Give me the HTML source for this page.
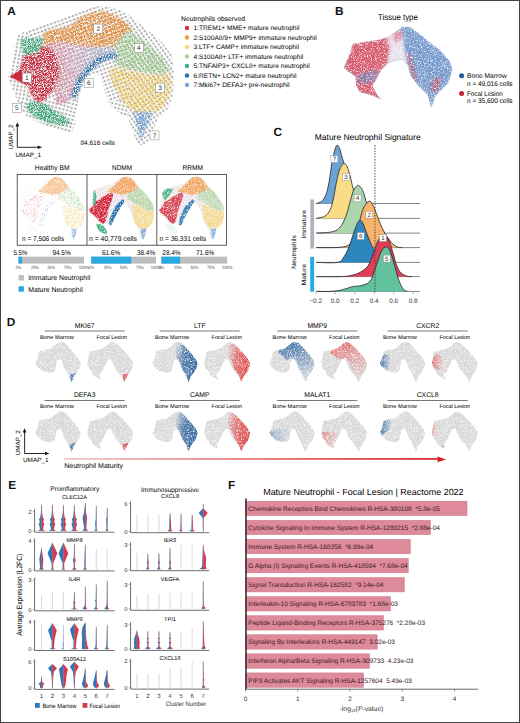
<!DOCTYPE html><html><head><meta charset="utf-8"><style>
html,body{margin:0;padding:0;background:#fff;}
svg{display:block;}
text{font-family:"Liberation Sans", sans-serif;text-rendering:geometricPrecision;}
</style></head><body>
<svg width="520" height="723" viewBox="0 0 520 723">
<defs>
<filter id="speck2" x="0" y="0" width="100%" height="100%" filterUnits="userSpaceOnUse">
<feTurbulence type="fractalNoise" baseFrequency="1.3" numOctaves="2" seed="11" result="n"/>
<feColorMatrix in="n" type="matrix" values="0 0 0 0 0  0 0 0 0 0  0 0 0 0 0  0 0 0 -3 2.45" result="m"/>
<feComposite in="SourceGraphic" in2="m" operator="in"/></filter>
<filter id="soft" x="-5%" y="-5%" width="110%" height="110%"><feGaussianBlur stdDeviation="0.35"/></filter>
</defs>
<rect x="0" y="0" width="520" height="723" fill="#fff"/>

<text x="7.2" y="15.4" font-size="11.8" font-weight="bold" fill="#111">A</text>
<defs>
<pattern id="arr" width="3.8" height="3.8" patternUnits="userSpaceOnUse" patternTransform="rotate(-20)">
<path d="M0.7,1.9 H2.7" stroke="#444" stroke-width="0.45" fill="none"/><path d="M2.4,1.3 L3.2,1.9 L2.4,2.5 Z" fill="#444"/>
</pattern>
<pattern id="arrU" width="3.8" height="3.8" patternUnits="userSpaceOnUse" patternTransform="rotate(-80)">
<path d="M0.7,1.9 H2.7" stroke="#444" stroke-width="0.45" fill="none"/><path d="M2.4,1.3 L3.2,1.9 L2.4,2.5 Z" fill="#444"/>
</pattern>
<pattern id="arrD" width="3.8" height="3.8" patternUnits="userSpaceOnUse" patternTransform="rotate(55)">
<path d="M0.7,1.9 H2.7" stroke="#444" stroke-width="0.45" fill="none"/><path d="M2.4,1.3 L3.2,1.9 L2.4,2.5 Z" fill="#444"/>
</pattern>
<pattern id="arrR" width="3.8" height="3.8" patternUnits="userSpaceOnUse" patternTransform="rotate(15)">
<path d="M0.7,1.9 H2.7" stroke="#444" stroke-width="0.45" fill="none"/><path d="M2.4,1.3 L3.2,1.9 L2.4,2.5 Z" fill="#444"/>
</pattern>
<clipPath id="haloclip"><polygon points="8,78 12,60 14,45 19,34 30,30 45,24 60,20 75,13 90,7 105,6 120,10 133,18 145,28 160,40 172,55 174,75 173,95 168,110 158,118 152,135 146,145 138,145 132,130 128,118 118,112 110,105 104,90 100,75 92,73 84,82 78,100 75,125 72,133 60,131 45,125 28,118 20,108 15,95"/></clipPath>
<linearGradient id="gmix" x1="0" y1="0" x2="1" y2="0"><stop offset="0" stop-color="#e58a98"/><stop offset="0.45" stop-color="#d9b8cf"/><stop offset="1" stop-color="#a9c6e4"/></linearGradient>
<filter id="amblur" x="0" y="0" width="180" height="150" filterUnits="userSpaceOnUse"><feGaussianBlur stdDeviation="0.9"/></filter>
<filter id="speck" x="0" y="0" width="100%" height="100%" filterUnits="userSpaceOnUse">
<feTurbulence type="fractalNoise" baseFrequency="1.1" numOctaves="2" seed="7" result="n"/>
<feColorMatrix in="n" type="matrix" values="0 0 0 0 0  0 0 0 0 0  0 0 0 0 0  0 0 0 -4.5 2.9" result="m"/>
<feComposite in="SourceGraphic" in2="m" operator="in"/>
</filter>
</defs>
<g opacity="0.85"><g clip-path="url(#haloclip)"><rect x="0" y="0" width="28" height="100" fill="url(#arrU)"/><rect x="28" y="0" width="100" height="100" fill="url(#arr)"/><rect x="128" y="0" width="50" height="150" fill="url(#arrD)"/><rect x="0" y="100" width="128" height="50" fill="url(#arrR)"/></g></g>
<g filter="url(#speck)"><g filter="url(#amblur)">
<polygon points="42.6,33 50,30 60,28 68.8,26.5 82.1,16.6 93.2,12.2 104.2,11 117.5,16.6 128.6,24.3 133,31 124.1,42 113.1,46.4 97.6,47.5 82.1,46.4 66.6,43.1 60,41 50,44 44,46" fill="#f09a48"/>
<polygon points="115.3,44.2 128.6,28.7 137.4,35.4 152.9,48.7 164,59.7 170.6,70.8 159.5,75.2 137.4,70.8 117.5,66.3 110.9,57.5" fill="#a9d29b"/>
<polygon points="110.9,66.3 137.4,73 159.5,75.2 170.6,73 170.6,92.9 164,106.1 152.9,112.8 135.2,112.8 124.1,103.9 115.3,88.5 108.7,75.2" fill="#f6d67c"/>
<polygon points="133,111.7 152.9,111.7 148.5,123.8 140.7,140.4 136.3,123.8" fill="#79a7d8"/>
<polygon points="44,46 60,41 82.1,46.4 97.6,47.5 113.1,46.4 117.5,57.5 110.9,55.3 99.8,59.7 88.7,68.6 79.9,79.6 73.3,97.3 66,104 56,104 54.2,89 60,73.5 58.1,58.1 50.3,54.2" fill="url(#gmix)"/>
<polygon points="70.5,96 77.2,78 86.5,66 98.2,57 110.5,52.3 117,54 117,60 111.3,58.3 101.4,62.4 90.9,71.2 82.6,81.2 76,98.6" fill="#2b73b0"/>
<polygon points="9.7,76.4 19.4,70.6 22.3,58.1 27,49 33,46 40,45.5 48,48 55,53 58.1,58.1 60,73.5 54.2,89 44.5,100.6 36.8,102.6 31,94.8 27.1,85.2 19.4,81.3" fill="#d42b40"/>
<polygon points="20.3,38.7 44.5,37.7 38.7,52.3 23.2,56.1" fill="#3fae80"/>
<polygon points="25.2,104.5 32.9,101.6 44.5,103.5 54.2,110.3 63.9,116.1 71.6,123.9 63.9,125.8 50.3,123.9 36.8,118 29,112.3" fill="#3fae80"/>
</g></g>
<polygon points="9.7,76.4 21.3,69.7 27.1,85.2" fill="#d42b40"/>
<g opacity="0.6"><g clip-path="url(#haloclip)"><rect x="0" y="0" width="28" height="100" fill="url(#arrU)"/><rect x="28" y="0" width="100" height="100" fill="url(#arr)"/><rect x="128" y="0" width="50" height="150" fill="url(#arrD)"/><rect x="0" y="100" width="128" height="50" fill="url(#arrR)"/></g></g>
<rect x="22.3" y="73.1" width="9" height="9" fill="#fff" stroke="#888" stroke-width="0.5"/>
<text x="26.8" y="79.94" font-size="6.5" text-anchor="middle" fill="#333">1</text>
<rect x="93.7" y="24.1" width="9" height="9" fill="#fff" stroke="#888" stroke-width="0.5"/>
<text x="98.2" y="30.94" font-size="6.5" text-anchor="middle" fill="#333">2</text>
<rect x="155.5" y="83.2" width="9" height="9" fill="#fff" stroke="#888" stroke-width="0.5"/>
<text x="160" y="90.04" font-size="6.5" text-anchor="middle" fill="#333">3</text>
<rect x="134.4" y="43.5" width="9" height="9" fill="#fff" stroke="#888" stroke-width="0.5"/>
<text x="138.9" y="50.34" font-size="6.5" text-anchor="middle" fill="#333">4</text>
<rect x="12.3" y="103.3" width="9" height="9" fill="#fff" stroke="#888" stroke-width="0.5"/>
<text x="16.8" y="110.14" font-size="6.5" text-anchor="middle" fill="#333">5</text>
<rect x="84.2" y="78.3" width="9" height="9" fill="#fff" stroke="#888" stroke-width="0.5"/>
<text x="88.7" y="85.14" font-size="6.5" text-anchor="middle" fill="#333">6</text>
<rect x="150.0" y="130.9" width="9" height="9" fill="#fff" stroke="#888" stroke-width="0.5"/>
<text x="154.5" y="137.74" font-size="6.5" text-anchor="middle" fill="#333">7</text>
<text x="181" y="20.5" font-size="6.8" textLength="64" lengthAdjust="spacingAndGlyphs">Neutrophils observed</text>
<circle cx="187" cy="28.0" r="2.2" fill="#d42b40"/>
<text x="193.5" y="30.4" font-size="6.6">1:TREM1+ MME+ mature neutrophil</text>
<circle cx="187" cy="37.5" r="2.2" fill="#f09a48"/>
<text x="193.5" y="39.9" font-size="6.6">2:S100A8/9+ MMP9+ immature neutrophil</text>
<circle cx="187" cy="47.0" r="2.2" fill="#f6d67c"/>
<text x="193.5" y="49.4" font-size="6.6">3:LTF+ CAMP+ immature neutrophil</text>
<circle cx="187" cy="56.5" r="2.2" fill="#a9d29b"/>
<text x="193.5" y="58.9" font-size="6.6">4:S100A8+ LTF+ immature neutrophil</text>
<circle cx="187" cy="66.0" r="2.2" fill="#3fae80"/>
<text x="193.5" y="68.4" font-size="6.6">5:TNFAIP3+ CXCL8+ mature neutrophil</text>
<circle cx="187" cy="75.5" r="2.2" fill="#2b73b0"/>
<text x="193.5" y="77.9" font-size="6.6">6:RETN+ LCN2+ mature neutrophil</text>
<circle cx="187" cy="85.0" r="2.2" fill="#79a7d8"/>
<text x="193.5" y="87.4" font-size="6.6">7:Mki67+ DEFA3+ pre-neutrophil</text>
<text x="80.5" y="144.5" font-size="6.5" textLength="34.5" lengthAdjust="spacingAndGlyphs">84,616 cells</text>
<path d="M17.3,147.3 V125 M17.3,147.3 H39" stroke="#111" stroke-width="0.9" fill="none"/>
<path d="M15.5,126.6 L17.3,122.2 L19.1,126.6 Z M37.7,145.5 L42,147.3 L37.7,149.1 Z" fill="#111"/>
<text x="12.6" y="149.2" font-size="6.3" textLength="24.5" lengthAdjust="spacingAndGlyphs" transform="rotate(-90 12.6 149.2)">UMAP_2</text>
<text x="15.5" y="157" font-size="6.3" textLength="25.5" lengthAdjust="spacingAndGlyphs">UMAP_1</text>
<text x="52.15" y="170.1" font-size="7.0" text-anchor="middle" textLength="34.7" lengthAdjust="spacingAndGlyphs">Healthy BM</text>
<text x="122" y="170.1" font-size="7.0" text-anchor="middle" textLength="20" lengthAdjust="spacingAndGlyphs">NDMM</text>
<text x="192.75" y="170.1" font-size="7.0" text-anchor="middle" textLength="20.5" lengthAdjust="spacingAndGlyphs">RRMM</text>
<text x="22" y="241.2" font-size="7.0" textLength="42" lengthAdjust="spacingAndGlyphs">n = 7,506 cells</text>
<text x="89" y="241.2" font-size="7.0" textLength="48" lengthAdjust="spacingAndGlyphs">n = 40,779 cells</text>
<text x="159.4" y="241.2" font-size="7.0" textLength="46.6" lengthAdjust="spacingAndGlyphs">n = 36,331 cells</text>
<rect x="17.2" y="174.4" width="209.3" height="70.8" fill="none" stroke="#333" stroke-width="0.8"/>
<path d="M87,174.4 V245.2 M156.8,174.4 V245.2" stroke="#333" stroke-width="0.8"/>
<defs><filter id="speck3" x="0" y="0" width="100%" height="100%" filterUnits="userSpaceOnUse">
<feTurbulence type="fractalNoise" baseFrequency="1.3" numOctaves="2" seed="5" result="n"/>
<feColorMatrix in="n" type="matrix" values="0 0 0 0 0  0 0 0 0 0  0 0 0 0 0  0 0 0 -5 2.5" result="m"/>
<feComposite in="SourceGraphic" in2="m" operator="in"/></filter>
<filter id="smblur"><feGaussianBlur stdDeviation="1.1"/></filter></defs>
<g filter="url(#speck3)"><g transform="translate(19.5,176.7) scale(0.6530,0.6330)"><g filter="url(#smblur)">
<polygon points="0,52 4,36 7,20 22,15 37,11 50,0 64,3 84,25 97,44 100,55 95,72 88,81 79,100 76,83 68,70 62,50 55,40 46,42 40,52 34,64 29,74 25,72 15,72 8,64 2,58" fill="#efe6e6" opacity="0.35"/>
<polygon points="75.3,16.4 83.5,22.8 91.7,33.5 97.9,44.1 100,52.6 93.8,54.7 85.6,50.5 77.3,46.2 67,39.8 58.8,35.6 58.8,27.1 69.1,22.8" fill="#a9d29b" opacity="0.75"/>
<polygon points="67,44 77.3,46.2 87.6,52.6 97.9,54.7 100,61.1 97.9,71.7 93.8,78.1 87.6,82.4 79.4,82.4 73.2,78.1 69.1,67.5 67,56.9" fill="#f6d67c" opacity="0.7"/>
<polygon points="79.4,82.4 87.6,82.4 86,92 82.5,100 80,92" fill="#79a7d8" opacity="1"/>
<polygon points="35.1,25 50.5,29.2 58.8,27.1 58.8,35.6 51.6,35.6 46.4,39.8 42.3,44.1 38.2,50.5 34,61.1 29.9,50.5 34,39.8 37.1,29.2" fill="#ebe4ef" opacity="0.3"/>
<polygon points="46.4,39.8 51.6,35.6 54.7,38.8 48.5,48.3 42.3,59 37.1,69.6 34,77 29.9,76 32,65.4 38.2,50.5 42.3,44.1" fill="#2b73b0" opacity="0.3"/>
<polygon points="0,52.6 5.2,47.3 8.3,39.8 15.5,36.6 21.7,31.3 29.9,27.1 35.1,25 37.1,29.2 34,39.8 29.9,50.5 27.9,61.1 24.8,71.7 21.7,74.9 16.5,71.7 12.4,65.4 5.2,59 1.1,55.8" fill="#d42b40" opacity="0.25"/>
<polygon points="6.2,23.9 9.3,21.8 11.4,31.3 9.3,46.2 6.2,44.1" fill="#3fae80" opacity="0.15"/>
<polygon points="11.4,74.4 21.7,76.5 28,87.2 25.8,91.4 17.5,87.2 12.4,80.8" fill="#3fae80" opacity="0.1"/>
</g></g></g>
<g filter="url(#speck2)"><g transform="translate(19.5,176.7) scale(0.6530,0.6330)"><g filter="url(#smblur)">
<polygon points="27.9,22.8 38.2,14.3 46.4,5.8 52.6,0.5 58.8,0 64.9,2.6 71.1,10.1 75.3,16.4 69.1,22.8 58.8,27.1 50.5,29.2 42.3,27.1 35.1,25" fill="#f09a48" opacity="0.55"/>
<polygon points="75.3,16.4 83.5,22.8 91.7,33.5 97.9,44.1 100,52.6 93.8,54.7 85.6,50.5 77.3,46.2 67,39.8 58.8,35.6 58.8,27.1 69.1,22.8" fill="#a9d29b" opacity="0.15"/>
<polygon points="67,44 77.3,46.2 87.6,52.6 97.9,54.7 100,61.1 97.9,71.7 93.8,78.1 87.6,82.4 79.4,82.4 73.2,78.1 69.1,67.5 67,56.9" fill="#f6d67c" opacity="0.15"/>
<polygon points="79.4,82.4 87.6,82.4 86,92 82.5,100 80,92" fill="#79a7d8" opacity="0.5"/>
</g></g></g>
<g filter="url(#speck2)"><g transform="translate(89,176.7) scale(0.6530,0.6330)"><g filter="url(#smblur)">
<polygon points="0,52 4,36 7,20 22,15 37,11 50,0 64,3 84,25 97,44 100,55 95,72 88,81 79,100 76,83 68,70 62,50 55,40 46,42 40,52 34,64 29,74 25,72 15,72 8,64 2,58" fill="#efe6e6" opacity="1"/>
<polygon points="27.9,22.8 38.2,14.3 46.4,5.8 52.6,0.5 58.8,0 64.9,2.6 71.1,10.1 75.3,16.4 69.1,22.8 58.8,27.1 50.5,29.2 42.3,27.1 35.1,25" fill="#f09a48" opacity="0.8"/>
<polygon points="75.3,16.4 83.5,22.8 91.7,33.5 97.9,44.1 100,52.6 93.8,54.7 85.6,50.5 77.3,46.2 67,39.8 58.8,35.6 58.8,27.1 69.1,22.8" fill="#a9d29b" opacity="0.75"/>
<polygon points="67,44 77.3,46.2 87.6,52.6 97.9,54.7 100,61.1 97.9,71.7 93.8,78.1 87.6,82.4 79.4,82.4 73.2,78.1 69.1,67.5 67,56.9" fill="#f6d67c" opacity="0.75"/>
<polygon points="79.4,82.4 87.6,82.4 86,92 82.5,100 80,92" fill="#79a7d8" opacity="0.9"/>
<polygon points="35.1,25 50.5,29.2 58.8,27.1 58.8,35.6 51.6,35.6 46.4,39.8 42.3,44.1 38.2,50.5 34,61.1 29.9,50.5 34,39.8 37.1,29.2" fill="#ebe4ef" opacity="0.8"/>
<polygon points="46.4,39.8 51.6,35.6 54.7,38.8 48.5,48.3 42.3,59 37.1,69.6 34,77 29.9,76 32,65.4 38.2,50.5 42.3,44.1" fill="#2b73b0" opacity="1"/>
<polygon points="0,52.6 5.2,47.3 8.3,39.8 15.5,36.6 21.7,31.3 29.9,27.1 35.1,25 37.1,29.2 34,39.8 29.9,50.5 27.9,61.1 24.8,71.7 21.7,74.9 16.5,71.7 12.4,65.4 5.2,59 1.1,55.8" fill="#d42b40" opacity="1"/>
<polygon points="6.2,23.9 9.3,21.8 11.4,31.3 9.3,46.2 6.2,44.1" fill="#3fae80" opacity="1"/>
<polygon points="11.4,74.4 21.7,76.5 28,87.2 25.8,91.4 17.5,87.2 12.4,80.8" fill="#3fae80" opacity="1"/>
</g></g></g>
<g filter="url(#speck2)"><g transform="translate(159,176.7) scale(0.6530,0.6330)"><g filter="url(#smblur)">
<polygon points="0,52 4,36 7,20 22,15 37,11 50,0 64,3 84,25 97,44 100,55 95,72 88,81 79,100 76,83 68,70 62,50 55,40 46,42 40,52 34,64 29,74 25,72 15,72 8,64 2,58" fill="#efe6e6" opacity="1"/>
<polygon points="27.9,22.8 38.2,14.3 46.4,5.8 52.6,0.5 58.8,0 64.9,2.6 71.1,10.1 75.3,16.4 69.1,22.8 58.8,27.1 50.5,29.2 42.3,27.1 35.1,25" fill="#f09a48" opacity="0.8"/>
<polygon points="75.3,16.4 83.5,22.8 91.7,33.5 97.9,44.1 100,52.6 93.8,54.7 85.6,50.5 77.3,46.2 67,39.8 58.8,35.6 58.8,27.1 69.1,22.8" fill="#a9d29b" opacity="0.7"/>
<polygon points="67,44 77.3,46.2 87.6,52.6 97.9,54.7 100,61.1 97.9,71.7 93.8,78.1 87.6,82.4 79.4,82.4 73.2,78.1 69.1,67.5 67,56.9" fill="#f6d67c" opacity="0.75"/>
<polygon points="79.4,82.4 87.6,82.4 86,92 82.5,100 80,92" fill="#79a7d8" opacity="0.9"/>
<polygon points="35.1,25 50.5,29.2 58.8,27.1 58.8,35.6 51.6,35.6 46.4,39.8 42.3,44.1 38.2,50.5 34,61.1 29.9,50.5 34,39.8 37.1,29.2" fill="#ebe4ef" opacity="0.8"/>
<polygon points="46.4,39.8 51.6,35.6 54.7,38.8 48.5,48.3 42.3,59 37.1,69.6 34,77 29.9,76 32,65.4 38.2,50.5 42.3,44.1" fill="#2b73b0" opacity="0.9"/>
<polygon points="0,52.6 5.2,47.3 8.3,39.8 15.5,36.6 21.7,31.3 29.9,27.1 35.1,25 37.1,29.2 34,39.8 29.9,50.5 27.9,61.1 24.8,71.7 21.7,74.9 16.5,71.7 12.4,65.4 5.2,59 1.1,55.8" fill="#d42b40" opacity="0.85"/>
<polygon points="4,26 12,19 22,19 18,27 9,38" fill="#3fae80" opacity="0.9"/>
<polygon points="11.4,74.4 21.7,76.5 28,87.2 25.8,91.4 17.5,87.2 12.4,80.8" fill="#3fae80" opacity="0.12"/>
</g></g></g>
<rect x="18.5" y="256.7" width="65.5" height="6.9" fill="#bcbec0"/>
<rect x="18.5" y="256.7" width="3.60" height="6.9" fill="#27a9e1"/>
<text x="13.5" y="254.6" font-size="7.0" textLength="13.8" lengthAdjust="spacingAndGlyphs">5.5%</text>
<text x="52.4" y="254.6" font-size="7.0" textLength="18.3" lengthAdjust="spacingAndGlyphs">94.5%</text>
<text x="18.5" y="268.8" font-size="4.6" text-anchor="middle" fill="#555" textLength="5.5" lengthAdjust="spacingAndGlyphs">0%</text>
<text x="34.875" y="268.8" font-size="4.6" text-anchor="middle" fill="#555" textLength="7.6" lengthAdjust="spacingAndGlyphs">25%</text>
<text x="51.25" y="268.8" font-size="4.6" text-anchor="middle" fill="#555" textLength="7.6" lengthAdjust="spacingAndGlyphs">50%</text>
<text x="67.625" y="268.8" font-size="4.6" text-anchor="middle" fill="#555" textLength="7.6" lengthAdjust="spacingAndGlyphs">75%</text>
<text x="84.0" y="268.8" font-size="4.6" text-anchor="middle" fill="#555" textLength="10.5" lengthAdjust="spacingAndGlyphs">100%</text>
<rect x="91.3" y="256.7" width="64.7" height="6.9" fill="#bcbec0"/>
<rect x="91.3" y="256.7" width="39.86" height="6.9" fill="#27a9e1"/>
<text x="101.9" y="254.6" font-size="7.0" textLength="18.3" lengthAdjust="spacingAndGlyphs">61.6%</text>
<text x="136.9" y="254.6" font-size="7.0" textLength="18.3" lengthAdjust="spacingAndGlyphs">38.4%</text>
<text x="91.3" y="268.8" font-size="4.6" text-anchor="middle" fill="#555" textLength="5.5" lengthAdjust="spacingAndGlyphs">0%</text>
<text x="107.475" y="268.8" font-size="4.6" text-anchor="middle" fill="#555" textLength="7.6" lengthAdjust="spacingAndGlyphs">25%</text>
<text x="123.65" y="268.8" font-size="4.6" text-anchor="middle" fill="#555" textLength="7.6" lengthAdjust="spacingAndGlyphs">50%</text>
<text x="139.825" y="268.8" font-size="4.6" text-anchor="middle" fill="#555" textLength="7.6" lengthAdjust="spacingAndGlyphs">75%</text>
<text x="156.0" y="268.8" font-size="4.6" text-anchor="middle" fill="#555" textLength="10.5" lengthAdjust="spacingAndGlyphs">100%</text>
<rect x="161.4" y="256.7" width="65.79999999999998" height="6.9" fill="#bcbec0"/>
<rect x="161.4" y="256.7" width="18.69" height="6.9" fill="#27a9e1"/>
<text x="162.3" y="254.6" font-size="7.0" textLength="18.3" lengthAdjust="spacingAndGlyphs">28.4%</text>
<text x="196" y="254.6" font-size="7.0" textLength="18.3" lengthAdjust="spacingAndGlyphs">71.6%</text>
<text x="161.4" y="268.8" font-size="4.6" text-anchor="middle" fill="#555" textLength="5.5" lengthAdjust="spacingAndGlyphs">0%</text>
<text x="177.85" y="268.8" font-size="4.6" text-anchor="middle" fill="#555" textLength="7.6" lengthAdjust="spacingAndGlyphs">25%</text>
<text x="194.3" y="268.8" font-size="4.6" text-anchor="middle" fill="#555" textLength="7.6" lengthAdjust="spacingAndGlyphs">50%</text>
<text x="210.75" y="268.8" font-size="4.6" text-anchor="middle" fill="#555" textLength="7.6" lengthAdjust="spacingAndGlyphs">75%</text>
<text x="227.2" y="268.8" font-size="4.6" text-anchor="middle" fill="#555" textLength="10.5" lengthAdjust="spacingAndGlyphs">100%</text>
<rect x="18.6" y="275" width="5.3" height="5.5" fill="#bcbec0"/>
<text x="28.2" y="280.4" font-size="6.9" textLength="62" lengthAdjust="spacingAndGlyphs">Immature Neutrophil</text>
<rect x="18.6" y="286.2" width="5.3" height="5.5" fill="#27a9e1"/>
<text x="28.2" y="291.6" font-size="6.9" textLength="54.5" lengthAdjust="spacingAndGlyphs">Mature Neutrophil</text>
<text x="334.9" y="15.4" font-size="11.8" font-weight="bold" fill="#111">B</text>
<text x="377.9" y="19.9" font-size="8.5" textLength="40" lengthAdjust="spacingAndGlyphs">Tissue type</text>
<defs><clipPath id="bclip"><polygon points="343.75,67.5 350,52.5 352.5,43.75 360,42.5 367.5,41.25 377.5,40 387,37 395,32.3 402,26.5 410,27 418,32.3 427.5,40.5 440,50 450,61.25 452.5,70 448.75,82.5 440,91.25 435,97.5 431.25,108.75 427.5,95 417.5,85 410,75 407.5,65 402.5,60 395,61.25 387.5,63.75 381.25,70 376.25,80 372.5,85.5 377.5,95 382.5,100 370,95 360,92.5 356.25,86.25 355,76.25 347.5,71.25"/></clipPath><filter id="bblur" x="330" y="15" width="140" height="105" filterUnits="userSpaceOnUse"><feGaussianBlur stdDeviation="1.6"/></filter></defs>
<g filter="url(#speck2)"><g clip-path="url(#bclip)">
<polygon points="343.75,67.5 350,52.5 352.5,43.75 360,42.5 367.5,41.25 377.5,40 387,37 395,32.3 402,26.5 410,27 418,32.3 427.5,40.5 440,50 450,61.25 452.5,70 448.75,82.5 440,91.25 435,97.5 431.25,108.75 427.5,95 417.5,85 410,75 407.5,65 402.5,60 395,61.25 387.5,63.75 381.25,70 376.25,80 372.5,85.5 377.5,95 382.5,100 370,95 360,92.5 356.25,86.25 355,76.25 347.5,71.25" fill="#b4c3e2"/>
<g filter="url(#bblur)">
<polygon points="343.75,67.5 350,52.5 352.5,43.75 360,42.5 367.5,41.25 377.5,40 387,37 392,40 390,50 387.5,63.75 381.25,70 376.25,80 372.5,85.5 377.5,95 382.5,100 370,95 360,92.5 356.25,86.25 355,76.25 347.5,71.25" fill="#dc4a5a" opacity="0.85"/>
<polygon points="358,74 368,72 378,70 375,80 366,84 358,82" fill="#6f8fc4" opacity="0.7"/>
<polygon points="398,29 402,26.5 410,27 418,32.3 427.5,40.5 440,50 450,61.25 452.5,70 448.75,82.5 440,91.25 435,97.5 431.25,108.75 427.5,95 417.5,85 410,75 407.5,65 404,55 402,42" fill="#6c93c9" opacity="0.85"/>
<polygon points="387,37 395,32.3 402,30 404,45 407.5,65 402.5,60 395,61.25 387.5,63.75 390,50" fill="#f1eaf0" opacity="0.8"/>
<polygon points="406,52 411,55 414,68 418,82 413,80 409,68" fill="#dc4656" opacity="0.5"/>
<polygon points="432,80 442,76 438,90 431,93" fill="#dc4656" opacity="0.55"/>
<polygon points="392,35 398,30 403,31 401,40 395,44" fill="#dc4656" opacity="0.5"/>
</g>
</g></g>
<circle cx="461.6" cy="75.8" r="2.5" fill="#1f5d9c"/>
<text x="467" y="77.8" font-size="6.8" textLength="39.8" lengthAdjust="spacingAndGlyphs">Bone Marrow</text>
<text x="467" y="85.8" font-size="6.8" textLength="45.6" lengthAdjust="spacingAndGlyphs">n = 49,016 cells</text>
<circle cx="461.6" cy="93.6" r="2.5" fill="#c8202e"/>
<text x="467" y="95.7" font-size="6.8" textLength="35.8" lengthAdjust="spacingAndGlyphs">Focal Lesion</text>
<text x="467" y="103.3" font-size="6.8" textLength="45.6" lengthAdjust="spacingAndGlyphs">n = 35,600 cells</text>
<text x="273.6" y="135.7" font-size="11.8" font-weight="bold" fill="#111">C</text>
<text x="314.8" y="139.5" font-size="8.4" textLength="105.8" lengthAdjust="spacingAndGlyphs">Mature Neutrophil Signature</text>
<line x1="316.3" y1="203.5" x2="420" y2="203.5" stroke="#58595b" stroke-width="0.75"/>
<path d="M316.30,203.50 C317.18,203.13 320.00,202.72 321.60,201.30 C323.20,199.88 324.67,198.17 325.90,195.00 C327.13,191.83 327.95,187.93 329.00,182.30 C330.05,176.67 331.20,166.67 332.20,161.20 C333.20,155.73 334.18,152.15 335.00,149.50 C335.82,146.85 336.33,145.47 337.10,145.30 C337.87,145.13 338.83,146.73 339.60,148.50 C340.37,150.27 341.07,153.78 341.70,155.90 C342.33,158.02 342.68,158.52 343.40,161.20 C344.12,163.88 345.07,168.03 346.00,172.00 C346.93,175.97 348.00,181.17 349.00,185.00 C350.00,188.83 350.83,192.33 352.00,195.00 C353.17,197.67 354.33,199.63 356.00,201.00 C357.67,202.37 359.67,202.78 362.00,203.20 C364.33,203.62 368.67,203.45 370.00,203.50 L370,203.5 L316.3,203.5 Z" fill="#6aa3d6"/>
<path d="M316.30,203.50 C317.18,203.13 320.00,202.72 321.60,201.30 C323.20,199.88 324.67,198.17 325.90,195.00 C327.13,191.83 327.95,187.93 329.00,182.30 C330.05,176.67 331.20,166.67 332.20,161.20 C333.20,155.73 334.18,152.15 335.00,149.50 C335.82,146.85 336.33,145.47 337.10,145.30 C337.87,145.13 338.83,146.73 339.60,148.50 C340.37,150.27 341.07,153.78 341.70,155.90 C342.33,158.02 342.68,158.52 343.40,161.20 C344.12,163.88 345.07,168.03 346.00,172.00 C346.93,175.97 348.00,181.17 349.00,185.00 C350.00,188.83 350.83,192.33 352.00,195.00 C353.17,197.67 354.33,199.63 356.00,201.00 C357.67,202.37 359.67,202.78 362.00,203.20 C364.33,203.62 368.67,203.45 370.00,203.50" fill="none" stroke="#2d2d2d" stroke-width="0.85"/>
<line x1="316.3" y1="218.4" x2="420" y2="218.4" stroke="#58595b" stroke-width="0.75"/>
<path d="M316.30,218.40 C317.72,218.03 322.50,217.63 324.80,216.20 C327.10,214.77 328.68,212.63 330.10,209.80 C331.52,206.97 332.25,203.78 333.30,199.20 C334.35,194.62 335.35,187.23 336.40,182.30 C337.45,177.37 338.53,172.60 339.60,169.60 C340.67,166.60 342.02,165.35 342.80,164.30 C343.58,163.25 343.60,162.95 344.30,163.30 C345.00,163.65 346.02,164.28 347.00,166.40 C347.98,168.52 349.32,172.82 350.20,176.00 C351.08,179.18 351.50,182.17 352.30,185.50 C353.10,188.83 354.05,192.58 355.00,196.00 C355.95,199.42 356.83,203.00 358.00,206.00 C359.17,209.00 360.33,212.03 362.00,214.00 C363.67,215.97 365.67,217.07 368.00,217.80 C370.33,218.53 374.67,218.30 376.00,218.40 L376,218.4 L316.3,218.4 Z" fill="#fbdc86"/>
<path d="M316.30,218.40 C317.72,218.03 322.50,217.63 324.80,216.20 C327.10,214.77 328.68,212.63 330.10,209.80 C331.52,206.97 332.25,203.78 333.30,199.20 C334.35,194.62 335.35,187.23 336.40,182.30 C337.45,177.37 338.53,172.60 339.60,169.60 C340.67,166.60 342.02,165.35 342.80,164.30 C343.58,163.25 343.60,162.95 344.30,163.30 C345.00,163.65 346.02,164.28 347.00,166.40 C347.98,168.52 349.32,172.82 350.20,176.00 C351.08,179.18 351.50,182.17 352.30,185.50 C353.10,188.83 354.05,192.58 355.00,196.00 C355.95,199.42 356.83,203.00 358.00,206.00 C359.17,209.00 360.33,212.03 362.00,214.00 C363.67,215.97 365.67,217.07 368.00,217.80 C370.33,218.53 374.67,218.30 376.00,218.40" fill="none" stroke="#2d2d2d" stroke-width="0.85"/>
<line x1="316.3" y1="233.1" x2="420" y2="233.1" stroke="#58595b" stroke-width="0.75"/>
<path d="M316.30,233.10 C318.78,232.92 327.32,232.88 331.20,232.00 C335.08,231.12 337.13,230.43 339.60,227.80 C342.07,225.17 344.23,220.62 346.00,216.20 C347.77,211.78 348.97,205.53 350.20,201.30 C351.43,197.07 352.35,193.33 353.40,190.80 C354.45,188.27 355.70,186.98 356.50,186.10 C357.30,185.22 357.32,185.07 358.20,185.50 C359.08,185.93 360.73,186.95 361.80,188.70 C362.87,190.45 363.78,193.53 364.60,196.00 C365.42,198.47 365.97,201.00 366.70,203.50 C367.43,206.00 368.12,208.25 369.00,211.00 C369.88,213.75 370.92,217.17 372.00,220.00 C373.08,222.83 374.42,225.93 375.50,228.00 C376.58,230.07 377.58,231.55 378.50,232.40 C379.42,233.25 380.58,232.98 381.00,233.10 L381,233.1 L316.3,233.1 Z" fill="#abd6ad"/>
<path d="M316.30,233.10 C318.78,232.92 327.32,232.88 331.20,232.00 C335.08,231.12 337.13,230.43 339.60,227.80 C342.07,225.17 344.23,220.62 346.00,216.20 C347.77,211.78 348.97,205.53 350.20,201.30 C351.43,197.07 352.35,193.33 353.40,190.80 C354.45,188.27 355.70,186.98 356.50,186.10 C357.30,185.22 357.32,185.07 358.20,185.50 C359.08,185.93 360.73,186.95 361.80,188.70 C362.87,190.45 363.78,193.53 364.60,196.00 C365.42,198.47 365.97,201.00 366.70,203.50 C367.43,206.00 368.12,208.25 369.00,211.00 C369.88,213.75 370.92,217.17 372.00,220.00 C373.08,222.83 374.42,225.93 375.50,228.00 C376.58,230.07 377.58,231.55 378.50,232.40 C379.42,233.25 380.58,232.98 381.00,233.10" fill="none" stroke="#2d2d2d" stroke-width="0.85"/>
<line x1="316.3" y1="247.6" x2="420" y2="247.6" stroke="#58595b" stroke-width="0.75"/>
<path d="M316.30,247.60 C320.25,247.55 334.38,247.90 340.00,247.30 C345.62,246.70 347.33,246.22 350.00,244.00 C352.67,241.78 354.42,237.67 356.00,234.00 C357.58,230.33 358.53,225.55 359.50,222.00 C360.47,218.45 360.88,215.48 361.80,212.70 C362.72,209.92 363.68,207.23 365.00,205.30 C366.32,203.37 368.28,200.93 369.70,201.10 C371.12,201.27 372.23,203.82 373.50,206.30 C374.77,208.78 376.08,212.88 377.30,216.00 C378.52,219.12 379.65,222.35 380.80,225.00 C381.95,227.65 383.05,229.78 384.20,231.90 C385.35,234.02 386.35,235.77 387.70,237.70 C389.05,239.63 390.95,242.07 392.30,243.50 C393.65,244.93 394.65,245.63 395.80,246.30 C396.95,246.97 398.17,247.28 399.20,247.50 C400.23,247.72 401.53,247.58 402.00,247.60 L402,247.6 L316.3,247.6 Z" fill="#f8b46a"/>
<path d="M316.30,247.60 C320.25,247.55 334.38,247.90 340.00,247.30 C345.62,246.70 347.33,246.22 350.00,244.00 C352.67,241.78 354.42,237.67 356.00,234.00 C357.58,230.33 358.53,225.55 359.50,222.00 C360.47,218.45 360.88,215.48 361.80,212.70 C362.72,209.92 363.68,207.23 365.00,205.30 C366.32,203.37 368.28,200.93 369.70,201.10 C371.12,201.27 372.23,203.82 373.50,206.30 C374.77,208.78 376.08,212.88 377.30,216.00 C378.52,219.12 379.65,222.35 380.80,225.00 C381.95,227.65 383.05,229.78 384.20,231.90 C385.35,234.02 386.35,235.77 387.70,237.70 C389.05,239.63 390.95,242.07 392.30,243.50 C393.65,244.93 394.65,245.63 395.80,246.30 C396.95,246.97 398.17,247.28 399.20,247.50 C400.23,247.72 401.53,247.58 402.00,247.60" fill="none" stroke="#2d2d2d" stroke-width="0.85"/>
<line x1="316.3" y1="262.4" x2="420" y2="262.4" stroke="#58595b" stroke-width="0.75"/>
<path d="M316.30,262.40 C319.83,262.40 332.92,263.28 337.50,262.40 C342.08,261.52 341.87,259.75 343.80,257.10 C345.73,254.45 347.50,250.38 349.10,246.50 C350.70,242.62 352.17,237.32 353.40,233.80 C354.63,230.28 355.45,227.68 356.50,225.40 C357.55,223.12 358.63,220.45 359.70,220.10 C360.77,219.75 361.83,221.37 362.90,223.30 C363.97,225.23 364.87,228.53 366.10,231.70 C367.33,234.87 369.07,239.47 370.30,242.30 C371.53,245.13 372.38,246.58 373.50,248.70 C374.62,250.82 375.75,253.12 377.00,255.00 C378.25,256.88 379.50,258.83 381.00,260.00 C382.50,261.17 384.17,261.60 386.00,262.00 C387.83,262.40 391.00,262.33 392.00,262.40 L392,262.4 L316.3,262.4 Z" fill="#2d87be"/>
<path d="M316.30,262.40 C319.83,262.40 332.92,263.28 337.50,262.40 C342.08,261.52 341.87,259.75 343.80,257.10 C345.73,254.45 347.50,250.38 349.10,246.50 C350.70,242.62 352.17,237.32 353.40,233.80 C354.63,230.28 355.45,227.68 356.50,225.40 C357.55,223.12 358.63,220.45 359.70,220.10 C360.77,219.75 361.83,221.37 362.90,223.30 C363.97,225.23 364.87,228.53 366.10,231.70 C367.33,234.87 369.07,239.47 370.30,242.30 C371.53,245.13 372.38,246.58 373.50,248.70 C374.62,250.82 375.75,253.12 377.00,255.00 C378.25,256.88 379.50,258.83 381.00,260.00 C382.50,261.17 384.17,261.60 386.00,262.00 C387.83,262.40 391.00,262.33 392.00,262.40" fill="none" stroke="#2d2d2d" stroke-width="0.85"/>
<line x1="316.3" y1="276.6" x2="420" y2="276.6" stroke="#58595b" stroke-width="0.75"/>
<path d="M316.30,276.60 C320.53,276.60 335.70,276.85 341.70,276.60 C347.70,276.35 349.12,275.88 352.30,275.10 C355.48,274.32 358.15,273.48 360.80,271.90 C363.45,270.32 366.08,268.77 368.20,265.60 C370.32,262.43 371.98,256.78 373.50,252.90 C375.02,249.02 376.07,244.95 377.30,242.30 C378.53,239.65 379.78,238.05 380.90,237.00 C382.02,235.95 382.95,236.00 384.00,236.00 C385.05,236.00 386.13,235.60 387.20,237.00 C388.27,238.40 389.33,241.40 390.40,244.40 C391.47,247.40 392.55,251.47 393.60,255.00 C394.65,258.53 395.47,262.60 396.70,265.60 C397.93,268.60 399.23,271.23 401.00,273.00 C402.77,274.77 405.47,275.60 407.30,276.20 C409.13,276.80 411.22,276.53 412.00,276.60 L412,276.6 L316.3,276.6 Z" fill="#e03c55"/>
<path d="M316.30,276.60 C320.53,276.60 335.70,276.85 341.70,276.60 C347.70,276.35 349.12,275.88 352.30,275.10 C355.48,274.32 358.15,273.48 360.80,271.90 C363.45,270.32 366.08,268.77 368.20,265.60 C370.32,262.43 371.98,256.78 373.50,252.90 C375.02,249.02 376.07,244.95 377.30,242.30 C378.53,239.65 379.78,238.05 380.90,237.00 C382.02,235.95 382.95,236.00 384.00,236.00 C385.05,236.00 386.13,235.60 387.20,237.00 C388.27,238.40 389.33,241.40 390.40,244.40 C391.47,247.40 392.55,251.47 393.60,255.00 C394.65,258.53 395.47,262.60 396.70,265.60 C397.93,268.60 399.23,271.23 401.00,273.00 C402.77,274.77 405.47,275.60 407.30,276.20 C409.13,276.80 411.22,276.53 412.00,276.60" fill="none" stroke="#2d2d2d" stroke-width="0.85"/>
<line x1="316.3" y1="291.4" x2="420" y2="291.4" stroke="#58595b" stroke-width="0.75"/>
<path d="M316.30,291.40 C318.78,291.40 326.97,291.65 331.20,291.40 C335.43,291.15 338.18,290.68 341.70,289.90 C345.22,289.12 350.00,287.30 352.30,286.70 C354.60,286.10 354.08,286.47 355.50,286.30 C356.92,286.13 358.87,286.15 360.80,285.70 C362.73,285.25 365.35,284.67 367.10,283.60 C368.85,282.53 369.88,281.95 371.30,279.30 C372.72,276.65 374.18,271.75 375.60,267.70 C377.02,263.65 378.57,258.17 379.80,255.00 C381.03,251.83 381.93,250.03 383.00,248.70 C384.07,247.37 385.32,247.18 386.20,247.00 C387.08,246.82 387.43,246.27 388.30,247.60 C389.17,248.93 390.35,252.00 391.40,255.00 C392.45,258.00 393.35,261.37 394.60,265.60 C395.85,269.83 397.48,276.52 398.90,280.40 C400.32,284.28 401.70,287.07 403.10,288.90 C404.50,290.73 406.60,290.98 407.30,291.40 L407.3,291.4 L316.3,291.4 Z" fill="#62c29e"/>
<path d="M316.30,291.40 C318.78,291.40 326.97,291.65 331.20,291.40 C335.43,291.15 338.18,290.68 341.70,289.90 C345.22,289.12 350.00,287.30 352.30,286.70 C354.60,286.10 354.08,286.47 355.50,286.30 C356.92,286.13 358.87,286.15 360.80,285.70 C362.73,285.25 365.35,284.67 367.10,283.60 C368.85,282.53 369.88,281.95 371.30,279.30 C372.72,276.65 374.18,271.75 375.60,267.70 C377.02,263.65 378.57,258.17 379.80,255.00 C381.03,251.83 381.93,250.03 383.00,248.70 C384.07,247.37 385.32,247.18 386.20,247.00 C387.08,246.82 387.43,246.27 388.30,247.60 C389.17,248.93 390.35,252.00 391.40,255.00 C392.45,258.00 393.35,261.37 394.60,265.60 C395.85,269.83 397.48,276.52 398.90,280.40 C400.32,284.28 401.70,287.07 403.10,288.90 C404.50,290.73 406.60,290.98 407.30,291.40" fill="none" stroke="#2d2d2d" stroke-width="0.85"/>
<rect x="330.9" y="155.5" width="7" height="7" fill="#fff" stroke="#777" stroke-width="0.4"/>
<text x="334.4" y="161.2" font-size="6.2" text-anchor="middle" fill="#333">7</text>
<rect x="342.5" y="173.5" width="7" height="7" fill="#fff" stroke="#777" stroke-width="0.4"/>
<text x="346" y="179.2" font-size="6.2" text-anchor="middle" fill="#333">3</text>
<rect x="354.1" y="194.7" width="7" height="7" fill="#fff" stroke="#777" stroke-width="0.4"/>
<text x="357.6" y="200.39999999999998" font-size="6.2" text-anchor="middle" fill="#333">4</text>
<rect x="365.7" y="211.3" width="7" height="7" fill="#fff" stroke="#777" stroke-width="0.4"/>
<text x="369.2" y="217.0" font-size="6.2" text-anchor="middle" fill="#333">2</text>
<rect x="357.3" y="232.5" width="7" height="7" fill="#fff" stroke="#777" stroke-width="0.4"/>
<text x="360.8" y="238.2" font-size="6.2" text-anchor="middle" fill="#333">6</text>
<rect x="379.5" y="234.5" width="7" height="7" fill="#fff" stroke="#777" stroke-width="0.4"/>
<text x="383" y="240.2" font-size="6.2" text-anchor="middle" fill="#333">1</text>
<rect x="383.3" y="255.10000000000002" width="7" height="7" fill="#fff" stroke="#777" stroke-width="0.4"/>
<text x="386.8" y="260.8" font-size="6.2" text-anchor="middle" fill="#333">5</text>
<line x1="375" y1="145" x2="375" y2="293" stroke="#444" stroke-width="0.9" stroke-dasharray="1.5,1.3"/>
<line x1="316.3" y1="293.6" x2="420" y2="293.6" stroke="#fff" stroke-width="0"/>
<line x1="315.7" y1="292.2" x2="315.7" y2="294.2" stroke="#555" stroke-width="0.5"/>
<text x="315.7" y="302.5" font-size="6.4" text-anchor="middle" fill="#333">−0.2</text>
<line x1="335.2" y1="292.2" x2="335.2" y2="294.2" stroke="#555" stroke-width="0.5"/>
<text x="335.2" y="302.5" font-size="6.4" text-anchor="middle" fill="#333">0.0</text>
<line x1="354.7" y1="292.2" x2="354.7" y2="294.2" stroke="#555" stroke-width="0.5"/>
<text x="354.7" y="302.5" font-size="6.4" text-anchor="middle" fill="#333">0.2</text>
<line x1="374.2" y1="292.2" x2="374.2" y2="294.2" stroke="#555" stroke-width="0.5"/>
<text x="374.2" y="302.5" font-size="6.4" text-anchor="middle" fill="#333">0.4</text>
<line x1="393.7" y1="292.2" x2="393.7" y2="294.2" stroke="#555" stroke-width="0.5"/>
<text x="393.7" y="302.5" font-size="6.4" text-anchor="middle" fill="#333">0.6</text>
<line x1="413.2" y1="292.2" x2="413.2" y2="294.2" stroke="#555" stroke-width="0.5"/>
<text x="413.2" y="302.5" font-size="6.4" text-anchor="middle" fill="#333">0.8</text>
<rect x="310.3" y="199.5" width="3.8" height="49" fill="#b1b3b6"/>
<rect x="310.2" y="256.8" width="3.9" height="34.9" fill="#27a9e1"/>
<text x="305.7" y="238.5" font-size="6.3" textLength="28.6" lengthAdjust="spacingAndGlyphs" transform="rotate(-90 305.7 238.5)">Immature</text>
<text x="305.7" y="285.4" font-size="6.3" textLength="21.5" lengthAdjust="spacingAndGlyphs" transform="rotate(-90 305.7 285.4)">Mature</text>
<text x="296.1" y="268.7" font-size="6.3" textLength="33.4" lengthAdjust="spacingAndGlyphs" transform="rotate(-90 296.1 268.7)">Neutrophils</text>
<text x="6.8" y="326.2" font-size="11.8" font-weight="bold" fill="#111">D</text>
<defs>
<linearGradient id="gbR" x1="0" y1="0" x2="1" y2="0.4"><stop offset="0" stop-color="#3e70a6" stop-opacity="0.05"/><stop offset="0.45" stop-color="#3e70a6" stop-opacity="0.85"/><stop offset="1" stop-color="#3a6ba0" stop-opacity="1"/></linearGradient>
<linearGradient id="grR" x1="0" y1="0" x2="1" y2="0.4"><stop offset="0" stop-color="#e15a5a" stop-opacity="0.05"/><stop offset="0.45" stop-color="#e15a5a" stop-opacity="0.8"/><stop offset="1" stop-color="#e04a4e" stop-opacity="0.95"/></linearGradient>
<linearGradient id="gbT" x1="0" y1="0" x2="0.3" y2="1"><stop offset="0" stop-color="#3b6ea6" stop-opacity="1"/><stop offset="0.5" stop-color="#5b86b5" stop-opacity="0.7"/><stop offset="1" stop-color="#8aa7c8" stop-opacity="0.25"/></linearGradient>
<linearGradient id="grT" x1="0" y1="0" x2="0.3" y2="1"><stop offset="0" stop-color="#e05555" stop-opacity="0.95"/><stop offset="0.5" stop-color="#e58080" stop-opacity="0.6"/><stop offset="1" stop-color="#eaa0a0" stop-opacity="0.2"/></linearGradient>
<linearGradient id="gbL" x1="0" y1="0" x2="1" y2="0"><stop offset="0" stop-color="#3b6ea6" stop-opacity="0.95"/><stop offset="0.6" stop-color="#5b86b5" stop-opacity="0.5"/><stop offset="1" stop-color="#8aa7c8" stop-opacity="0"/></linearGradient>
<linearGradient id="grL" x1="0" y1="0" x2="1" y2="0"><stop offset="0" stop-color="#e04a4e" stop-opacity="0.9"/><stop offset="0.6" stop-color="#e58080" stop-opacity="0.45"/><stop offset="1" stop-color="#eaa0a0" stop-opacity="0"/></linearGradient>
<linearGradient id="gbL2" x1="0" y1="0" x2="1" y2="0"><stop offset="0" stop-color="#6a90bb" stop-opacity="0.7"/><stop offset="1" stop-color="#8aa7c8" stop-opacity="0"/></linearGradient>
<linearGradient id="grL2" x1="0" y1="0" x2="1" y2="0.5"><stop offset="0" stop-color="#e06060" stop-opacity="0.75"/><stop offset="1" stop-color="#eaa0a0" stop-opacity="0"/></linearGradient>
</defs>
<defs><clipPath id="cpBM"><polygon points="0,52.6 4.8,42.1 8.3,23.7 19,19.7 31,18.4 38,13.2 47.6,3.9 56,0 64.3,2.6 73.8,13.2 85.7,28.9 95.2,42.1 100,52.6 96.4,65.8 90.5,76.3 84.5,84.2 79.8,100 75,89.5 71.4,78.9 64.3,65.8 59.5,52.6 56,44.7 52.4,42.1 48,46 46,52 45,60 44,67 40,74 30,76 21.4,73.7 14.3,71 9.5,65.8 3.6,60.5"/></clipPath><clipPath id="cpFL"><polygon points="0,50.7 4.9,24 18.3,21.3 35.4,16 47.6,4 54.9,0 64.6,5.3 79.3,21.3 91.5,37.3 100,50.7 96.3,69.3 86.6,85.3 80.5,100 76.8,88 67.1,74.7 59.8,64 54.9,50.7 51.2,42.7 46.3,42.7 41.5,50.7 35.4,64 31.7,74.7 25.6,80 29.3,89.3 31.7,93.3 20.7,88 11,80 9.8,72 3.7,66.7 1.2,58.7"/></clipPath></defs>
<text x="84.65" y="327.5" font-size="6.8" text-anchor="middle">MKI67</text>
<line x1="44.6" y1="331.0" x2="124.7" y2="331.0" stroke="#555" stroke-width="0.8"/>
<text x="40" y="338.6" font-size="5.6" textLength="33.9" lengthAdjust="spacingAndGlyphs">Bone Marrow</text>
<text x="96.5" y="338.6" font-size="5.6" textLength="30.5" lengthAdjust="spacingAndGlyphs">Focal Lesion</text>
<g filter="url(#speck2)"><g transform="translate(35.30,341.80) scale(0.4550,0.4080)"><polygon points="0,52.6 4.8,42.1 8.3,23.7 19,19.7 31,18.4 38,13.2 47.6,3.9 56,0 64.3,2.6 73.8,13.2 85.7,28.9 95.2,42.1 100,52.6 96.4,65.8 90.5,76.3 84.5,84.2 79.8,100 75,89.5 71.4,78.9 64.3,65.8 59.5,52.6 56,44.7 52.4,42.1 48,46 46,52 45,60 44,67 40,74 30,76 21.4,73.7 14.3,71 9.5,65.8 3.6,60.5" fill="#d9d9d9"/><polygon points="77,80 91,77 88,84 79,100 77,90" fill="#4a72a8" clip-path="url(#cpBM)"/></g></g>
<g filter="url(#speck2)"><g transform="translate(87.30,341.80) scale(0.4600,0.4080)"><polygon points="0,50.7 4.9,24 18.3,21.3 35.4,16 47.6,4 54.9,0 64.6,5.3 79.3,21.3 91.5,37.3 100,50.7 96.3,69.3 86.6,85.3 80.5,100 76.8,88 67.1,74.7 59.8,64 54.9,50.7 51.2,42.7 46.3,42.7 41.5,50.7 35.4,64 31.7,74.7 25.6,80 29.3,89.3 31.7,93.3 20.7,88 11,80 9.8,72 3.7,66.7 1.2,58.7" fill="#d9d9d9"/><polygon points="77,80 91,77 88,84 79,100 77,90" fill="#e26a72" clip-path="url(#cpFL)"/></g></g>
<text x="199.75" y="327.5" font-size="6.8" text-anchor="middle">LTF</text>
<line x1="159.7" y1="331.0" x2="239.8" y2="331.0" stroke="#555" stroke-width="0.8"/>
<text x="155.1" y="338.6" font-size="5.6" textLength="33.9" lengthAdjust="spacingAndGlyphs">Bone Marrow</text>
<text x="211.6" y="338.6" font-size="5.6" textLength="30.5" lengthAdjust="spacingAndGlyphs">Focal Lesion</text>
<g filter="url(#speck2)"><g transform="translate(152.30,341.80) scale(0.4550,0.4080)"><polygon points="0,52.6 4.8,42.1 8.3,23.7 19,19.7 31,18.4 38,13.2 47.6,3.9 56,0 64.3,2.6 73.8,13.2 85.7,28.9 95.2,42.1 100,52.6 96.4,65.8 90.5,76.3 84.5,84.2 79.8,100 75,89.5 71.4,78.9 64.3,65.8 59.5,52.6 56,44.7 52.4,42.1 48,46 46,52 45,60 44,67 40,74 30,76 21.4,73.7 14.3,71 9.5,65.8 3.6,60.5" fill="#d9d9d9"/><polygon points="52,8 64,3 84,25 97,44 100,55 95,72 88,81 79,100 76,83 66,68 60,48 53,39" fill="url(#gbR)" clip-path="url(#cpBM)"/></g></g>
<g filter="url(#speck2)"><g transform="translate(204.30,341.80) scale(0.4600,0.4080)"><polygon points="0,50.7 4.9,24 18.3,21.3 35.4,16 47.6,4 54.9,0 64.6,5.3 79.3,21.3 91.5,37.3 100,50.7 96.3,69.3 86.6,85.3 80.5,100 76.8,88 67.1,74.7 59.8,64 54.9,50.7 51.2,42.7 46.3,42.7 41.5,50.7 35.4,64 31.7,74.7 25.6,80 29.3,89.3 31.7,93.3 20.7,88 11,80 9.8,72 3.7,66.7 1.2,58.7" fill="#d9d9d9"/><polygon points="52,8 64,3 84,25 97,44 100,55 95,72 88,81 79,100 76,83 66,68 60,48 53,39" fill="url(#grR)" clip-path="url(#cpFL)"/></g></g>
<text x="317.25" y="327.5" font-size="6.8" text-anchor="middle">MMP9</text>
<line x1="277.2" y1="331.0" x2="357.3" y2="331.0" stroke="#555" stroke-width="0.8"/>
<text x="272.6" y="338.6" font-size="5.6" textLength="33.9" lengthAdjust="spacingAndGlyphs">Bone Marrow</text>
<text x="329.1" y="338.6" font-size="5.6" textLength="30.5" lengthAdjust="spacingAndGlyphs">Focal Lesion</text>
<g filter="url(#speck2)"><g transform="translate(269.30,341.80) scale(0.4550,0.4080)"><polygon points="0,52.6 4.8,42.1 8.3,23.7 19,19.7 31,18.4 38,13.2 47.6,3.9 56,0 64.3,2.6 73.8,13.2 85.7,28.9 95.2,42.1 100,52.6 96.4,65.8 90.5,76.3 84.5,84.2 79.8,100 75,89.5 71.4,78.9 64.3,65.8 59.5,52.6 56,44.7 52.4,42.1 48,46 46,52 45,60 44,67 40,74 30,76 21.4,73.7 14.3,71 9.5,65.8 3.6,60.5" fill="#d9d9d9"/><polygon points="22,15 37,11 50,0 64,3 84,25 97,44 100,55 95,72 88,81 79,100 76,83 66,68 60,48 53,39 45,41 38,45 30,35 20,28" fill="url(#gbT)" clip-path="url(#cpBM)"/></g></g>
<g filter="url(#speck2)"><g transform="translate(321.30,341.80) scale(0.4600,0.4080)"><polygon points="0,50.7 4.9,24 18.3,21.3 35.4,16 47.6,4 54.9,0 64.6,5.3 79.3,21.3 91.5,37.3 100,50.7 96.3,69.3 86.6,85.3 80.5,100 76.8,88 67.1,74.7 59.8,64 54.9,50.7 51.2,42.7 46.3,42.7 41.5,50.7 35.4,64 31.7,74.7 25.6,80 29.3,89.3 31.7,93.3 20.7,88 11,80 9.8,72 3.7,66.7 1.2,58.7" fill="#d9d9d9"/><polygon points="22,15 37,11 50,0 64,3 84,25 97,44 100,55 95,72 88,81 79,100 76,83 66,68 60,48 53,39 45,41 38,45 30,35 20,28" fill="url(#grT)" clip-path="url(#cpFL)"/></g></g>
<text x="427.65" y="327.5" font-size="6.8" text-anchor="middle">CXCR2</text>
<line x1="387.6" y1="331.0" x2="467.7" y2="331.0" stroke="#555" stroke-width="0.8"/>
<text x="383" y="338.6" font-size="5.6" textLength="33.9" lengthAdjust="spacingAndGlyphs">Bone Marrow</text>
<text x="439.5" y="338.6" font-size="5.6" textLength="30.5" lengthAdjust="spacingAndGlyphs">Focal Lesion</text>
<g filter="url(#speck2)"><g transform="translate(379.80,341.80) scale(0.4550,0.4080)"><polygon points="0,52.6 4.8,42.1 8.3,23.7 19,19.7 31,18.4 38,13.2 47.6,3.9 56,0 64.3,2.6 73.8,13.2 85.7,28.9 95.2,42.1 100,52.6 96.4,65.8 90.5,76.3 84.5,84.2 79.8,100 75,89.5 71.4,78.9 64.3,65.8 59.5,52.6 56,44.7 52.4,42.1 48,46 46,52 45,60 44,67 40,74 30,76 21.4,73.7 14.3,71 9.5,65.8 3.6,60.5" fill="#d9d9d9"/><polygon points="0,52 4,38 10,30 22,34 26,50 22,66 12,70 2,58" fill="url(#gbL)" clip-path="url(#cpBM)"/></g></g>
<g filter="url(#speck2)"><g transform="translate(431.80,341.80) scale(0.4600,0.4080)"><polygon points="0,50.7 4.9,24 18.3,21.3 35.4,16 47.6,4 54.9,0 64.6,5.3 79.3,21.3 91.5,37.3 100,50.7 96.3,69.3 86.6,85.3 80.5,100 76.8,88 67.1,74.7 59.8,64 54.9,50.7 51.2,42.7 46.3,42.7 41.5,50.7 35.4,64 31.7,74.7 25.6,80 29.3,89.3 31.7,93.3 20.7,88 11,80 9.8,72 3.7,66.7 1.2,58.7" fill="#d9d9d9"/><polygon points="0,52 4,38 10,30 22,34 26,50 22,66 12,70 2,58" fill="url(#grL)" clip-path="url(#cpFL)"/></g></g>
<text x="84.65" y="397.0" font-size="6.8" text-anchor="middle">DEFA3</text>
<line x1="44.6" y1="400.5" x2="124.7" y2="400.5" stroke="#555" stroke-width="0.8"/>
<text x="40" y="408.1" font-size="5.6" textLength="33.9" lengthAdjust="spacingAndGlyphs">Bone Marrow</text>
<text x="96.5" y="408.1" font-size="5.6" textLength="30.5" lengthAdjust="spacingAndGlyphs">Focal Lesion</text>
<g filter="url(#speck2)"><g transform="translate(35.30,411.30) scale(0.4550,0.4080)"><polygon points="0,52.6 4.8,42.1 8.3,23.7 19,19.7 31,18.4 38,13.2 47.6,3.9 56,0 64.3,2.6 73.8,13.2 85.7,28.9 95.2,42.1 100,52.6 96.4,65.8 90.5,76.3 84.5,84.2 79.8,100 75,89.5 71.4,78.9 64.3,65.8 59.5,52.6 56,44.7 52.4,42.1 48,46 46,52 45,60 44,67 40,74 30,76 21.4,73.7 14.3,71 9.5,65.8 3.6,60.5" fill="#d9d9d9"/><polygon points="77,80 91,77 88,84 79,100 77,90" fill="#4a72a8" clip-path="url(#cpBM)"/></g></g>
<g filter="url(#speck2)"><g transform="translate(87.30,411.30) scale(0.4600,0.4080)"><polygon points="0,50.7 4.9,24 18.3,21.3 35.4,16 47.6,4 54.9,0 64.6,5.3 79.3,21.3 91.5,37.3 100,50.7 96.3,69.3 86.6,85.3 80.5,100 76.8,88 67.1,74.7 59.8,64 54.9,50.7 51.2,42.7 46.3,42.7 41.5,50.7 35.4,64 31.7,74.7 25.6,80 29.3,89.3 31.7,93.3 20.7,88 11,80 9.8,72 3.7,66.7 1.2,58.7" fill="#d9d9d9"/><polygon points="77,80 91,77 88,84 79,100 77,90" fill="#e26a72" clip-path="url(#cpFL)"/></g></g>
<text x="199.75" y="397.0" font-size="6.8" text-anchor="middle">CAMP</text>
<line x1="159.7" y1="400.5" x2="239.8" y2="400.5" stroke="#555" stroke-width="0.8"/>
<text x="155.1" y="408.1" font-size="5.6" textLength="33.9" lengthAdjust="spacingAndGlyphs">Bone Marrow</text>
<text x="211.6" y="408.1" font-size="5.6" textLength="30.5" lengthAdjust="spacingAndGlyphs">Focal Lesion</text>
<g filter="url(#speck2)"><g transform="translate(152.30,411.30) scale(0.4550,0.4080)"><polygon points="0,52.6 4.8,42.1 8.3,23.7 19,19.7 31,18.4 38,13.2 47.6,3.9 56,0 64.3,2.6 73.8,13.2 85.7,28.9 95.2,42.1 100,52.6 96.4,65.8 90.5,76.3 84.5,84.2 79.8,100 75,89.5 71.4,78.9 64.3,65.8 59.5,52.6 56,44.7 52.4,42.1 48,46 46,52 45,60 44,67 40,74 30,76 21.4,73.7 14.3,71 9.5,65.8 3.6,60.5" fill="#d9d9d9"/><polygon points="52,8 64,3 84,25 97,44 100,55 95,72 88,81 79,100 76,83 66,68 60,48 53,39" fill="url(#gbR)" clip-path="url(#cpBM)"/></g></g>
<g filter="url(#speck2)"><g transform="translate(204.30,411.30) scale(0.4600,0.4080)"><polygon points="0,50.7 4.9,24 18.3,21.3 35.4,16 47.6,4 54.9,0 64.6,5.3 79.3,21.3 91.5,37.3 100,50.7 96.3,69.3 86.6,85.3 80.5,100 76.8,88 67.1,74.7 59.8,64 54.9,50.7 51.2,42.7 46.3,42.7 41.5,50.7 35.4,64 31.7,74.7 25.6,80 29.3,89.3 31.7,93.3 20.7,88 11,80 9.8,72 3.7,66.7 1.2,58.7" fill="#d9d9d9"/><polygon points="52,8 64,3 84,25 97,44 100,55 95,72 88,81 79,100 76,83 66,68 60,48 53,39" fill="url(#grR)" clip-path="url(#cpFL)"/></g></g>
<text x="317.25" y="397.0" font-size="6.8" text-anchor="middle">MALAT1</text>
<line x1="277.2" y1="400.5" x2="357.3" y2="400.5" stroke="#555" stroke-width="0.8"/>
<text x="272.6" y="408.1" font-size="5.6" textLength="33.9" lengthAdjust="spacingAndGlyphs">Bone Marrow</text>
<text x="329.1" y="408.1" font-size="5.6" textLength="30.5" lengthAdjust="spacingAndGlyphs">Focal Lesion</text>
<g filter="url(#speck2)"><g transform="translate(269.30,411.30) scale(0.4550,0.4080)"><polygon points="0,52.6 4.8,42.1 8.3,23.7 19,19.7 31,18.4 38,13.2 47.6,3.9 56,0 64.3,2.6 73.8,13.2 85.7,28.9 95.2,42.1 100,52.6 96.4,65.8 90.5,76.3 84.5,84.2 79.8,100 75,89.5 71.4,78.9 64.3,65.8 59.5,52.6 56,44.7 52.4,42.1 48,46 46,52 45,60 44,67 40,74 30,76 21.4,73.7 14.3,71 9.5,65.8 3.6,60.5" fill="#d9d9d9"/><polygon points="0,52 10,45 25,42 40,45 48,50 45,65 40,75 30,76 15,72 5,62" fill="url(#gbL2)" clip-path="url(#cpBM)"/></g></g>
<g filter="url(#speck2)"><g transform="translate(321.30,411.30) scale(0.4600,0.4080)"><polygon points="0,50.7 4.9,24 18.3,21.3 35.4,16 47.6,4 54.9,0 64.6,5.3 79.3,21.3 91.5,37.3 100,50.7 96.3,69.3 86.6,85.3 80.5,100 76.8,88 67.1,74.7 59.8,64 54.9,50.7 51.2,42.7 46.3,42.7 41.5,50.7 35.4,64 31.7,74.7 25.6,80 29.3,89.3 31.7,93.3 20.7,88 11,80 9.8,72 3.7,66.7 1.2,58.7" fill="#d9d9d9"/><polygon points="0,52 15,50 30,50 42,52 38,65 32,78 32,93 20,88 10,80 3,66" fill="url(#grL2)" clip-path="url(#cpFL)"/></g></g>
<text x="427.65" y="397.0" font-size="6.8" text-anchor="middle">CXCL8</text>
<line x1="387.6" y1="400.5" x2="467.7" y2="400.5" stroke="#555" stroke-width="0.8"/>
<text x="383" y="408.1" font-size="5.6" textLength="33.9" lengthAdjust="spacingAndGlyphs">Bone Marrow</text>
<text x="439.5" y="408.1" font-size="5.6" textLength="30.5" lengthAdjust="spacingAndGlyphs">Focal Lesion</text>
<g filter="url(#speck2)"><g transform="translate(379.80,411.30) scale(0.4550,0.4080)"><polygon points="0,52.6 4.8,42.1 8.3,23.7 19,19.7 31,18.4 38,13.2 47.6,3.9 56,0 64.3,2.6 73.8,13.2 85.7,28.9 95.2,42.1 100,52.6 96.4,65.8 90.5,76.3 84.5,84.2 79.8,100 75,89.5 71.4,78.9 64.3,65.8 59.5,52.6 56,44.7 52.4,42.1 48,46 46,52 45,60 44,67 40,74 30,76 21.4,73.7 14.3,71 9.5,65.8 3.6,60.5" fill="#d9d9d9"/><polygon points="0,50 4,30 8,22 20,20 28,25 25,40 15,50 5,58" fill="url(#gbL)" clip-path="url(#cpBM)"/></g></g>
<g filter="url(#speck2)"><g transform="translate(431.80,411.30) scale(0.4600,0.4080)"><polygon points="0,50.7 4.9,24 18.3,21.3 35.4,16 47.6,4 54.9,0 64.6,5.3 79.3,21.3 91.5,37.3 100,50.7 96.3,69.3 86.6,85.3 80.5,100 76.8,88 67.1,74.7 59.8,64 54.9,50.7 51.2,42.7 46.3,42.7 41.5,50.7 35.4,64 31.7,74.7 25.6,80 29.3,89.3 31.7,93.3 20.7,88 11,80 9.8,72 3.7,66.7 1.2,58.7" fill="#d9d9d9"/><polygon points="0,50 5,30 15,35 12,55 5,62 0,56" fill="url(#grL2)" clip-path="url(#cpFL)"/><polygon points="25,80 32,93 20,88" fill="url(#grL2)" clip-path="url(#cpFL)"/></g></g>
<path d="M24.6,453.5 V431 M24.6,453.5 H46" stroke="#111" stroke-width="0.9" fill="none"/>
<path d="M22.8,432.5 L24.6,428.2 L26.4,432.5 Z M45.1,451.7 L49.4,453.5 L45.1,455.3 Z" fill="#111"/>
<text x="19.9" y="455.2" font-size="6.2" textLength="25" lengthAdjust="spacingAndGlyphs" transform="rotate(-90 19.9 455.2)">UMAP_2</text>
<text x="23" y="462.4" font-size="6.2" textLength="25.5" lengthAdjust="spacingAndGlyphs">UMAP_1</text>
<defs><linearGradient id="gmat" x1="0" y1="0" x2="1" y2="0"><stop offset="0" stop-color="#f4c4c4"/><stop offset="1" stop-color="#d71e28"/></linearGradient></defs>
<rect x="64.2" y="458.1" width="375" height="1.7" fill="url(#gmat)"/>
<path d="M437.5,456.6 L446,459.4 L437.5,462.2 Z" fill="#d71e28"/>
<text x="64.2" y="468.3" font-size="7.0" textLength="58.8" lengthAdjust="spacingAndGlyphs">Neutrophil Maturity</text>
<text x="8.2" y="488.8" font-size="11.8" font-weight="bold" fill="#111">E</text>
<text x="74.8" y="491.2" font-size="6.7" text-anchor="middle" textLength="48.9" lengthAdjust="spacingAndGlyphs">Proinflammatory</text>
<text x="170" y="491.6" font-size="6.7" text-anchor="middle" textLength="58" lengthAdjust="spacingAndGlyphs">Immunosuppressive</text>
<text x="74.5" y="499.2" font-size="5.6" text-anchor="middle">CLEC12A</text>
<path d="M34.6,509.00 V532.20 H114.5" stroke="#6d6e71" stroke-width="1" fill="none"/>
<line x1="32.800000000000004" y1="531.00" x2="34.6" y2="531.00" stroke="#6d6e71" stroke-width="0.6"/>
<text x="31.400000000000002" y="533.1" font-size="5.8" text-anchor="end" fill="#333">0</text>
<line x1="32.800000000000004" y1="511.50" x2="34.6" y2="511.50" stroke="#6d6e71" stroke-width="0.6"/>
<text x="31.400000000000002" y="513.6" font-size="5.8" text-anchor="end" fill="#333">2</text>
<text x="170" y="498.2" font-size="5.6" text-anchor="middle">CXCL8</text>
<path d="M130.6,501.28 V532.70 H209.2" stroke="#6d6e71" stroke-width="1" fill="none"/>
<line x1="128.79999999999998" y1="531.50" x2="130.6" y2="531.50" stroke="#6d6e71" stroke-width="0.6"/>
<text x="127.39999999999999" y="533.6" font-size="5.8" text-anchor="end" fill="#333">0</text>
<line x1="128.79999999999998" y1="503.78" x2="130.6" y2="503.78" stroke="#6d6e71" stroke-width="0.6"/>
<text x="127.39999999999999" y="505.88" font-size="5.8" text-anchor="end" fill="#333">6</text>
<text x="74.5" y="541.6" font-size="5.6" text-anchor="middle">MMP8</text>
<path d="M34.6,538.40 V570.90 H114.5" stroke="#6d6e71" stroke-width="1" fill="none"/>
<line x1="32.800000000000004" y1="569.70" x2="34.6" y2="569.70" stroke="#6d6e71" stroke-width="0.6"/>
<text x="31.400000000000002" y="571.8000000000001" font-size="5.8" text-anchor="end" fill="#333">0</text>
<line x1="32.800000000000004" y1="540.90" x2="34.6" y2="540.90" stroke="#6d6e71" stroke-width="0.6"/>
<text x="31.400000000000002" y="543.0000000000001" font-size="5.8" text-anchor="end" fill="#333">4</text>
<text x="170" y="541.6" font-size="5.6" text-anchor="middle">IER3</text>
<path d="M130.6,542.19 V570.70 H209.2" stroke="#6d6e71" stroke-width="1" fill="none"/>
<line x1="128.79999999999998" y1="569.50" x2="130.6" y2="569.50" stroke="#6d6e71" stroke-width="0.6"/>
<text x="127.39999999999999" y="571.6" font-size="5.8" text-anchor="end" fill="#333">0</text>
<line x1="128.79999999999998" y1="544.69" x2="130.6" y2="544.69" stroke="#6d6e71" stroke-width="0.6"/>
<text x="127.39999999999999" y="546.7900000000001" font-size="5.8" text-anchor="end" fill="#333">3</text>
<text x="74.5" y="581.3" font-size="5.6" text-anchor="middle">IL4R</text>
<path d="M34.6,577.79 V610.80 H114.5" stroke="#6d6e71" stroke-width="1" fill="none"/>
<line x1="32.800000000000004" y1="609.60" x2="34.6" y2="609.60" stroke="#6d6e71" stroke-width="0.6"/>
<text x="31.400000000000002" y="611.7" font-size="5.8" text-anchor="end" fill="#333">0</text>
<line x1="32.800000000000004" y1="580.29" x2="34.6" y2="580.29" stroke="#6d6e71" stroke-width="0.6"/>
<text x="31.400000000000002" y="582.3900000000001" font-size="5.8" text-anchor="end" fill="#333">3</text>
<text x="170" y="581.2" font-size="5.6" text-anchor="middle">VEGFA</text>
<path d="M130.6,582.00 V610.30 H209.2" stroke="#6d6e71" stroke-width="1" fill="none"/>
<line x1="128.79999999999998" y1="609.10" x2="130.6" y2="609.10" stroke="#6d6e71" stroke-width="0.6"/>
<text x="127.39999999999999" y="611.2" font-size="5.8" text-anchor="end" fill="#333">0</text>
<line x1="128.79999999999998" y1="584.50" x2="130.6" y2="584.50" stroke="#6d6e71" stroke-width="0.6"/>
<text x="127.39999999999999" y="586.6" font-size="5.8" text-anchor="end" fill="#333">3</text>
<text x="74.5" y="620.6" font-size="5.6" text-anchor="middle">MMP9</text>
<path d="M34.6,619.60 V650.50 H114.5" stroke="#6d6e71" stroke-width="1" fill="none"/>
<line x1="32.800000000000004" y1="649.30" x2="34.6" y2="649.30" stroke="#6d6e71" stroke-width="0.6"/>
<text x="31.400000000000002" y="651.4" font-size="5.8" text-anchor="end" fill="#333">0</text>
<line x1="32.800000000000004" y1="622.10" x2="34.6" y2="622.10" stroke="#6d6e71" stroke-width="0.6"/>
<text x="31.400000000000002" y="624.1999999999999" font-size="5.8" text-anchor="end" fill="#333">4</text>
<text x="170" y="621.2" font-size="5.6" text-anchor="middle">TPI1</text>
<path d="M130.6,622.10 V650.40 H209.2" stroke="#6d6e71" stroke-width="1" fill="none"/>
<line x1="128.79999999999998" y1="649.20" x2="130.6" y2="649.20" stroke="#6d6e71" stroke-width="0.6"/>
<text x="127.39999999999999" y="651.3000000000001" font-size="5.8" text-anchor="end" fill="#333">0</text>
<line x1="128.79999999999998" y1="624.60" x2="130.6" y2="624.60" stroke="#6d6e71" stroke-width="0.6"/>
<text x="127.39999999999999" y="626.7" font-size="5.8" text-anchor="end" fill="#333">3</text>
<text x="74.5" y="660.6" font-size="5.6" text-anchor="middle">S100A12</text>
<path d="M34.6,659.18 V689.40 H114.5" stroke="#6d6e71" stroke-width="1" fill="none"/>
<line x1="32.800000000000004" y1="688.20" x2="34.6" y2="688.20" stroke="#6d6e71" stroke-width="0.6"/>
<text x="31.400000000000002" y="690.3000000000001" font-size="5.8" text-anchor="end" fill="#333">0</text>
<line x1="32.800000000000004" y1="661.68" x2="34.6" y2="661.68" stroke="#6d6e71" stroke-width="0.6"/>
<text x="31.400000000000002" y="663.7800000000001" font-size="5.8" text-anchor="end" fill="#333">6</text>
<text x="170" y="660.2" font-size="5.6" text-anchor="middle">CXCL16</text>
<path d="M130.6,658.80 V689.10 H209.2" stroke="#6d6e71" stroke-width="1" fill="none"/>
<line x1="128.79999999999998" y1="687.90" x2="130.6" y2="687.90" stroke="#6d6e71" stroke-width="0.6"/>
<text x="127.39999999999999" y="690.0" font-size="5.8" text-anchor="end" fill="#333">0</text>
<line x1="128.79999999999998" y1="661.30" x2="130.6" y2="661.30" stroke="#6d6e71" stroke-width="0.6"/>
<text x="127.39999999999999" y="663.4" font-size="5.8" text-anchor="end" fill="#333">2</text>
<line x1="41.50" y1="531.00" x2="41.50" y2="504.68" stroke="#4d4d4f" stroke-width="0.5"/>
<path d="M41.50,531.00 L41.20,531.00 L38.10,530.71 L39.90,529.54 L39.70,527.10 L38.70,523.98 L39.80,522.03 L39.00,519.59 L40.20,517.35 L40.80,513.45 L41.35,505.65 L41.50,505.65 Z" fill="#2e78b7"/>
<path d="M41.50,531.00 L41.80,531.00 L44.90,530.71 L43.10,529.54 L43.30,527.10 L44.30,523.98 L43.20,522.03 L44.00,519.59 L42.80,517.35 L42.20,513.45 L41.65,505.65 L41.50,505.65 Z" fill="#d43a4d"/>
<line x1="52.45" y1="531.00" x2="52.45" y2="504.68" stroke="#4d4d4f" stroke-width="0.5"/>
<path d="M52.45,531.00 L52.15,531.00 L49.05,530.71 L50.85,529.54 L50.65,527.10 L49.65,523.98 L50.75,522.03 L49.95,519.59 L51.15,517.35 L51.75,513.45 L52.30,505.65 L52.45,505.65 Z" fill="#2e78b7"/>
<path d="M52.45,531.00 L52.75,531.00 L55.85,530.71 L54.05,529.54 L54.25,527.10 L55.25,523.98 L54.15,522.03 L54.95,519.59 L53.75,517.35 L53.15,513.45 L52.60,505.65 L52.45,505.65 Z" fill="#d43a4d"/>
<line x1="63.40" y1="531.00" x2="63.40" y2="504.68" stroke="#4d4d4f" stroke-width="0.5"/>
<path d="M63.40,531.00 L63.10,531.00 L60.00,530.71 L61.80,529.54 L61.60,527.10 L60.60,523.98 L61.70,522.03 L60.90,519.59 L62.10,517.35 L62.70,513.45 L63.25,505.65 L63.40,505.65 Z" fill="#2e78b7"/>
<path d="M63.40,531.00 L63.70,531.00 L66.80,530.71 L65.00,529.54 L65.20,527.10 L66.20,523.98 L65.10,522.03 L65.90,519.59 L64.70,517.35 L64.10,513.45 L63.55,505.65 L63.40,505.65 Z" fill="#d43a4d"/>
<line x1="74.35" y1="531.00" x2="74.35" y2="504.68" stroke="#4d4d4f" stroke-width="0.5"/>
<path d="M74.35,531.00 L74.05,531.00 L70.95,530.71 L72.75,529.54 L72.55,527.10 L71.55,523.98 L72.65,522.03 L71.85,519.59 L73.05,517.35 L73.65,513.45 L74.20,505.65 L74.35,505.65 Z" fill="#2e78b7"/>
<path d="M74.35,531.00 L74.65,531.00 L77.75,530.71 L75.95,529.54 L76.15,527.10 L77.15,523.98 L76.05,522.03 L76.85,519.59 L75.65,517.35 L75.05,513.45 L74.50,505.65 L74.35,505.65 Z" fill="#d43a4d"/>
<line x1="85.30" y1="531.00" x2="85.30" y2="502.73" stroke="#4d4d4f" stroke-width="0.5"/>
<path d="M85.30,531.00 L85.00,531.00 L82.30,530.61 L84.10,529.05 L83.50,523.20 L82.50,517.84 L84.10,512.48 L85.10,503.70 L85.30,503.70 Z" fill="#2e78b7"/>
<path d="M85.30,531.00 L85.60,531.00 L88.30,530.61 L86.30,529.05 L86.80,522.23 L87.10,517.35 L85.90,511.50 L85.50,503.70 L85.30,503.70 Z" fill="#d43a4d"/>
<line x1="96.25" y1="531.00" x2="96.25" y2="505.65" stroke="#4d4d4f" stroke-width="0.5"/>
<path d="M96.25,531.00 L95.95,531.00 L94.25,530.61 L95.65,529.05 L95.15,522.23 L95.85,519.30 L96.05,506.62 L96.25,506.62 Z" fill="#2e78b7"/>
<path d="M96.25,531.00 L96.45,531.00 L97.45,530.61 L96.55,529.05 L96.35,506.62 L96.25,506.62 Z" fill="#d43a4d"/>
<line x1="107.20" y1="531.00" x2="107.20" y2="507.60" stroke="#4d4d4f" stroke-width="0.5"/>
<path d="M107.20,531.00 L106.90,531.00 L105.20,530.61 L106.70,529.05 L106.20,519.30 L106.80,516.38 L107.00,508.57 L107.20,508.57 Z" fill="#2e78b7"/>
<path d="M107.20,531.00 L107.40,531.00 L108.40,530.61 L107.50,529.05 L107.30,508.57 L107.20,508.57 Z" fill="#d43a4d"/>
<line x1="41.50" y1="569.70" x2="41.50" y2="548.10" stroke="#4d4d4f" stroke-width="0.5"/>
<path d="M41.50,569.70 L41.20,569.70 L39.00,569.41 L40.10,567.54 L39.30,558.90 L41.30,548.82 L41.50,548.82 Z" fill="#2e78b7"/>
<path d="M41.50,569.70 L41.80,569.70 L44.00,569.41 L42.70,567.54 L43.30,559.62 L41.70,548.82 L41.50,548.82 Z" fill="#d43a4d"/>
<line x1="52.45" y1="569.70" x2="52.45" y2="543.06" stroke="#4d4d4f" stroke-width="0.5"/>
<path d="M52.45,569.70 L52.15,569.70 L50.45,569.41 L51.65,568.62 L51.65,563.22 L47.55,553.14 L52.25,543.06 L52.45,543.06 Z" fill="#2e78b7"/>
<path d="M52.45,569.70 L52.75,569.70 L54.45,569.41 L53.25,568.62 L53.25,563.22 L57.35,553.14 L52.65,543.06 L52.45,543.06 Z" fill="#d43a4d"/>
<line x1="63.40" y1="569.70" x2="63.40" y2="543.06" stroke="#4d4d4f" stroke-width="0.5"/>
<path d="M63.40,569.70 L63.10,569.70 L61.40,569.41 L62.60,568.62 L62.60,563.22 L58.50,553.50 L63.20,543.06 L63.40,543.06 Z" fill="#2e78b7"/>
<path d="M63.40,569.70 L63.70,569.70 L65.40,569.41 L64.20,568.62 L64.20,563.22 L68.30,553.50 L63.60,543.06 L63.40,543.06 Z" fill="#d43a4d"/>
<line x1="74.35" y1="569.70" x2="74.35" y2="543.78" stroke="#4d4d4f" stroke-width="0.5"/>
<path d="M74.35,569.70 L74.05,569.70 L71.95,569.41 L73.75,567.54 L73.65,563.22 L72.75,560.34 L73.85,557.46 L74.15,544.50 L74.35,544.50 Z" fill="#2e78b7"/>
<path d="M74.35,569.70 L74.65,569.70 L76.75,569.41 L74.95,567.54 L75.05,563.22 L75.75,560.34 L74.85,557.46 L74.55,544.50 L74.35,544.50 Z" fill="#d43a4d"/>
<line x1="85.30" y1="569.70" x2="85.30" y2="544.50" stroke="#4d4d4f" stroke-width="0.5"/>
<path d="M85.30,569.70 L85.00,569.70 L83.10,569.41 L84.40,567.54 L84.40,562.50 L85.10,545.22 L85.30,545.22 Z" fill="#2e78b7"/>
<path d="M85.30,569.70 L85.50,569.70 L86.80,569.41 L85.60,567.54 L85.40,545.22 L85.30,545.22 Z" fill="#d43a4d"/>
<line x1="96.25" y1="569.70" x2="96.25" y2="549.54" stroke="#cfcfd1" stroke-width="0.8"/>
<line x1="107.20" y1="569.70" x2="107.20" y2="549.54" stroke="#cfcfd1" stroke-width="0.8"/>
<line x1="41.50" y1="609.60" x2="41.50" y2="595.92" stroke="#cfcfd1" stroke-width="0.8"/>
<circle cx="41.50" cy="602.76" r="0.9" fill="#e6d4d8"/>
<line x1="52.45" y1="609.60" x2="52.45" y2="592.01" stroke="#cfcfd1" stroke-width="0.8"/>
<circle cx="52.45" cy="602.76" r="0.9" fill="#e6d4d8"/>
<line x1="63.40" y1="609.60" x2="63.40" y2="592.01" stroke="#cfcfd1" stroke-width="0.8"/>
<circle cx="63.40" cy="602.76" r="0.9" fill="#e6d4d8"/>
<line x1="74.35" y1="609.60" x2="74.35" y2="592.01" stroke="#4d4d4f" stroke-width="0.5"/>
<path d="M74.35,609.60 L74.05,609.60 L70.15,609.11 L73.35,608.43 L73.75,603.74 L72.85,602.76 L73.85,601.78 L74.15,592.99 L74.35,592.99 Z" fill="#2e78b7"/>
<path d="M74.35,609.60 L74.65,609.60 L78.55,609.11 L75.35,608.43 L74.95,603.74 L75.65,602.76 L74.85,601.78 L74.55,592.99 L74.35,592.99 Z" fill="#d43a4d"/>
<line x1="85.30" y1="609.60" x2="85.30" y2="586.15" stroke="#4d4d4f" stroke-width="0.5"/>
<path d="M85.30,609.60 L85.00,609.60 L82.50,609.11 L84.10,606.67 L85.00,604.72 L85.10,587.13 L85.30,587.13 Z" fill="#2e78b7"/>
<path d="M85.30,609.60 L85.60,609.60 L87.30,609.11 L85.90,606.67 L85.40,587.13 L85.30,587.13 Z" fill="#d43a4d"/>
<line x1="96.25" y1="609.60" x2="96.25" y2="584.20" stroke="#4d4d4f" stroke-width="0.5"/>
<path d="M96.25,609.60 L95.95,609.60 L93.65,609.11 L95.75,606.67 L95.75,601.78 L94.65,600.81 L95.75,599.83 L96.05,585.18 L96.25,585.18 Z" fill="#2e78b7"/>
<path d="M96.25,609.60 L96.55,609.60 L97.85,609.11 L96.55,606.67 L96.35,585.18 L96.25,585.18 Z" fill="#d43a4d"/>
<line x1="107.20" y1="609.60" x2="107.20" y2="580.29" stroke="#4d4d4f" stroke-width="0.5"/>
<path d="M107.20,609.60 L106.90,609.60 L104.20,609.11 L105.90,606.67 L106.80,603.74 L107.00,581.27 L107.20,581.27 Z" fill="#2e78b7"/>
<path d="M107.20,609.60 L107.50,609.60 L109.20,609.11 L107.70,606.67 L107.30,581.27 L107.20,581.27 Z" fill="#d43a4d"/>
<line x1="41.50" y1="649.30" x2="41.50" y2="624.14" stroke="#cfcfd1" stroke-width="0.8"/>
<line x1="52.45" y1="649.30" x2="52.45" y2="623.46" stroke="#4d4d4f" stroke-width="0.5"/>
<path d="M52.45,649.30 L52.15,649.30 L48.95,649.03 L51.65,647.94 L51.65,641.14 L50.25,637.06 L48.05,630.26 L52.25,623.46 L52.45,623.46 Z" fill="#2e78b7"/>
<path d="M52.45,649.30 L52.75,649.30 L55.95,649.03 L53.95,647.94 L54.25,643.86 L54.65,639.10 L56.85,630.26 L52.65,623.46 L52.45,623.46 Z" fill="#d43a4d"/>
<line x1="74.35" y1="649.30" x2="74.35" y2="623.46" stroke="#4d4d4f" stroke-width="0.5"/>
<path d="M74.35,649.30 L74.05,649.30 L70.85,649.03 L73.55,647.94 L73.55,641.14 L72.15,637.06 L69.95,629.58 L74.15,623.46 L74.35,623.46 Z" fill="#2e78b7"/>
<path d="M74.35,649.30 L74.65,649.30 L77.85,649.03 L75.85,647.94 L76.15,643.86 L76.55,639.10 L78.75,629.58 L74.55,623.46 L74.35,623.46 Z" fill="#d43a4d"/>
<line x1="63.40" y1="649.30" x2="63.40" y2="624.82" stroke="#cfcfd1" stroke-width="0.8"/>
<path d="M63.40,649.30 L63.10,649.30 L61.20,649.03 L63.00,647.94 L62.60,643.86 L63.10,642.50 L63.30,625.50 L63.40,625.50 Z" fill="#2e78b7"/>
<line x1="85.30" y1="649.30" x2="85.30" y2="622.78" stroke="#4d4d4f" stroke-width="0.5"/>
<path d="M85.30,649.30 L85.00,649.30 L81.80,649.03 L81.90,645.90 L82.10,639.10 L81.70,632.30 L82.70,626.86 L85.10,622.78 L85.30,622.78 Z" fill="#2e78b7"/>
<path d="M85.30,649.30 L85.60,649.30 L88.50,649.03 L87.50,645.90 L86.70,641.14 L86.10,635.70 L85.80,628.90 L85.40,622.78 L85.30,622.78 Z" fill="#d43a4d"/>
<line x1="96.25" y1="649.30" x2="96.25" y2="626.86" stroke="#4d4d4f" stroke-width="0.5"/>
<path d="M96.25,649.30 L95.95,649.30 L93.45,649.03 L95.45,647.26 L95.75,642.50 L96.05,627.54 L96.25,627.54 Z" fill="#2e78b7"/>
<path d="M96.25,649.30 L96.55,649.30 L98.25,649.03 L96.65,647.26 L96.35,627.54 L96.25,627.54 Z" fill="#d43a4d"/>
<line x1="107.20" y1="649.30" x2="107.20" y2="624.82" stroke="#4d4d4f" stroke-width="0.5"/>
<path d="M107.20,649.30 L106.90,649.30 L104.40,649.03 L106.20,647.26 L106.60,642.50 L107.00,625.50 L107.20,625.50 Z" fill="#2e78b7"/>
<path d="M107.20,649.30 L107.50,649.30 L109.20,649.03 L107.60,647.26 L107.30,625.50 L107.20,625.50 Z" fill="#d43a4d"/>
<line x1="41.50" y1="688.20" x2="41.50" y2="676.71" stroke="#4d4d4f" stroke-width="0.5"/>
<path d="M41.50,688.20 L41.20,688.20 L40.00,687.76 L40.00,685.55 L38.50,683.78 L40.70,682.01 L41.30,677.15 L41.50,677.15 Z" fill="#2e78b7"/>
<path d="M41.50,688.20 L41.80,688.20 L43.00,687.76 L43.00,685.55 L44.30,683.78 L42.30,682.01 L41.70,677.15 L41.50,677.15 Z" fill="#d43a4d"/>
<line x1="52.45" y1="688.20" x2="52.45" y2="664.33" stroke="#4d4d4f" stroke-width="0.5"/>
<path d="M52.45,688.20 L52.25,688.20 L51.95,683.78 L51.65,677.15 L50.95,671.85 L47.95,668.31 L52.25,664.33 L52.45,664.33 Z" fill="#2e78b7"/>
<path d="M52.45,688.20 L52.65,688.20 L52.95,683.78 L53.25,677.15 L53.95,671.85 L56.95,668.31 L52.65,664.33 L52.45,664.33 Z" fill="#d43a4d"/>
<line x1="74.35" y1="688.20" x2="74.35" y2="662.12" stroke="#4d4d4f" stroke-width="0.5"/>
<path d="M74.35,688.20 L74.15,688.20 L73.85,683.78 L73.55,677.15 L72.85,671.85 L69.85,666.54 L74.15,662.12 L74.35,662.12 Z" fill="#2e78b7"/>
<path d="M74.35,688.20 L74.55,688.20 L74.85,683.78 L75.15,677.15 L75.85,671.85 L78.85,666.54 L74.55,662.12 L74.35,662.12 Z" fill="#d43a4d"/>
<line x1="63.40" y1="688.20" x2="63.40" y2="663.89" stroke="#4d4d4f" stroke-width="0.5"/>
<path d="M63.40,688.20 L62.90,688.20 L61.80,685.99 L60.90,681.57 L59.90,674.94 L58.90,669.19 L63.20,664.33 L63.40,664.33 Z" fill="#2e78b7"/>
<path d="M63.40,688.20 L63.90,688.20 L65.20,685.99 L66.00,681.57 L66.60,674.94 L67.90,669.19 L63.60,664.33 L63.40,664.33 Z" fill="#d43a4d"/>
<line x1="85.30" y1="688.20" x2="85.30" y2="668.31" stroke="#4d4d4f" stroke-width="0.5"/>
<path d="M85.30,688.20 L85.00,688.20 L82.80,686.87 L81.90,683.78 L83.10,679.36 L84.10,674.94 L85.10,668.75 L85.30,668.75 Z" fill="#2e78b7"/>
<path d="M85.30,688.20 L85.60,688.20 L87.80,686.87 L87.90,684.66 L86.50,682.90 L85.80,679.36 L85.40,668.75 L85.30,668.75 Z" fill="#d43a4d"/>
<line x1="96.25" y1="688.20" x2="96.25" y2="670.52" stroke="#4d4d4f" stroke-width="0.5"/>
<path d="M96.25,688.20 L95.95,688.20 L93.75,686.87 L92.85,683.78 L94.05,679.36 L95.05,674.94 L96.05,670.96 L96.25,670.96 Z" fill="#2e78b7"/>
<path d="M96.25,688.20 L96.55,688.20 L98.75,686.87 L98.85,684.66 L97.45,682.90 L96.75,679.36 L96.35,670.96 L96.25,670.96 Z" fill="#d43a4d"/>
<line x1="107.20" y1="688.20" x2="107.20" y2="670.08" stroke="#4d4d4f" stroke-width="0.5"/>
<path d="M107.20,688.20 L106.90,688.20 L104.70,686.87 L103.80,683.78 L105.00,679.36 L106.00,674.94 L107.00,670.52 L107.20,670.52 Z" fill="#2e78b7"/>
<path d="M107.20,688.20 L107.50,688.20 L109.70,686.87 L109.80,684.66 L108.40,682.90 L107.70,679.36 L107.30,670.52 L107.20,670.52 Z" fill="#d43a4d"/>
<line x1="136.80" y1="531.50" x2="136.80" y2="514.87" stroke="#cfcfd1" stroke-width="0.8"/>
<line x1="147.87" y1="531.50" x2="147.87" y2="514.87" stroke="#cfcfd1" stroke-width="0.8"/>
<line x1="158.94" y1="531.50" x2="158.94" y2="514.41" stroke="#cfcfd1" stroke-width="0.8"/>
<line x1="170.01" y1="531.50" x2="170.01" y2="513.48" stroke="#4d4d4f" stroke-width="0.5"/>
<path d="M170.01,531.50 L169.71,531.50 L167.21,531.04 L169.21,529.65 L169.81,513.94 L170.01,513.94 Z" fill="#2e78b7"/>
<path d="M170.01,531.50 L170.31,531.50 L172.81,531.04 L171.21,529.65 L171.01,522.26 L170.21,513.94 L170.01,513.94 Z" fill="#d43a4d"/>
<line x1="181.08" y1="531.50" x2="181.08" y2="513.48" stroke="#4d4d4f" stroke-width="0.5"/>
<path d="M181.08,531.50 L180.78,531.50 L178.88,531.04 L180.48,529.65 L180.88,513.94 L181.08,513.94 Z" fill="#2e78b7"/>
<path d="M181.08,531.50 L181.38,531.50 L182.58,531.04 L181.58,529.65 L181.18,513.94 L181.08,513.94 Z" fill="#d43a4d"/>
<line x1="192.15" y1="531.50" x2="192.15" y2="514.87" stroke="#4d4d4f" stroke-width="0.5"/>
<path d="M192.15,531.50 L191.85,531.50 L188.65,531.04 L191.55,529.65 L191.95,515.33 L192.15,515.33 Z" fill="#2e78b7"/>
<path d="M192.15,531.50 L192.45,531.50 L195.15,531.04 L193.05,529.65 L192.85,522.26 L192.35,515.33 L192.15,515.33 Z" fill="#d43a4d"/>
<line x1="203.22" y1="531.50" x2="203.22" y2="503.78" stroke="#4d4d4f" stroke-width="0.5"/>
<path d="M203.22,531.50 L203.02,531.50 L202.82,518.10 L198.62,513.02 L202.92,508.40 L203.12,503.78 L203.22,503.78 Z" fill="#2e78b7"/>
<path d="M203.22,531.50 L203.42,531.50 L203.62,518.10 L207.82,513.02 L203.52,508.40 L203.32,503.78 L203.22,503.78 Z" fill="#d43a4d"/>
<line x1="136.80" y1="569.50" x2="136.80" y2="552.96" stroke="#cfcfd1" stroke-width="0.8"/>
<line x1="147.87" y1="569.50" x2="147.87" y2="553.79" stroke="#4d4d4f" stroke-width="0.5"/>
<path d="M147.87,569.50 L147.57,569.50 L145.87,569.09 L147.37,567.02 L147.37,562.88 L146.57,562.06 L147.47,561.23 L147.67,554.61 L147.87,554.61 Z" fill="#2e78b7"/>
<path d="M147.87,569.50 L148.17,569.50 L149.47,569.09 L148.37,567.02 L148.37,562.88 L149.07,562.06 L148.27,561.23 L148.07,554.61 L147.87,554.61 Z" fill="#d43a4d"/>
<line x1="158.94" y1="569.50" x2="158.94" y2="552.96" stroke="#4d4d4f" stroke-width="0.5"/>
<path d="M158.94,569.50 L158.64,569.50 L156.94,569.09 L158.44,567.02 L158.44,562.88 L157.64,562.06 L158.54,561.23 L158.74,553.79 L158.94,553.79 Z" fill="#2e78b7"/>
<path d="M158.94,569.50 L159.24,569.50 L160.54,569.09 L159.44,567.02 L159.44,562.88 L160.14,562.06 L159.34,561.23 L159.14,553.79 L158.94,553.79 Z" fill="#d43a4d"/>
<line x1="170.01" y1="569.50" x2="170.01" y2="548.00" stroke="#4d4d4f" stroke-width="0.5"/>
<path d="M170.01,569.50 L169.71,569.50 L168.01,569.09 L169.51,567.02 L169.51,562.88 L168.71,562.06 L169.61,561.23 L169.81,548.83 L170.01,548.83 Z" fill="#2e78b7"/>
<path d="M170.01,569.50 L170.31,569.50 L171.61,569.09 L170.51,567.02 L170.51,562.88 L171.21,562.06 L170.41,561.23 L170.21,548.83 L170.01,548.83 Z" fill="#d43a4d"/>
<line x1="181.08" y1="569.50" x2="181.08" y2="544.69" stroke="#cfcfd1" stroke-width="0.8"/>
<line x1="192.15" y1="569.50" x2="192.15" y2="544.69" stroke="#cfcfd1" stroke-width="0.8"/>
<line x1="203.22" y1="569.50" x2="203.22" y2="544.69" stroke="#4d4d4f" stroke-width="0.5"/>
<path d="M203.22,569.50 L202.92,569.50 L199.72,568.67 L202.02,567.02 L203.02,546.34 L203.22,546.34 Z" fill="#2e78b7"/>
<path d="M203.22,569.50 L203.52,569.50 L206.72,568.67 L205.72,566.19 L206.22,557.92 L204.22,551.31 L203.42,545.52 L203.22,545.52 Z" fill="#d43a4d"/>
<line x1="136.80" y1="609.10" x2="136.80" y2="595.98" stroke="#cfcfd1" stroke-width="0.8"/>
<line x1="147.87" y1="609.10" x2="147.87" y2="594.34" stroke="#cfcfd1" stroke-width="0.8"/>
<line x1="158.94" y1="609.10" x2="158.94" y2="594.34" stroke="#cfcfd1" stroke-width="0.8"/>
<line x1="170.01" y1="609.10" x2="170.01" y2="592.70" stroke="#cfcfd1" stroke-width="0.8"/>
<line x1="181.08" y1="609.10" x2="181.08" y2="592.70" stroke="#cfcfd1" stroke-width="0.8"/>
<line x1="192.15" y1="609.10" x2="192.15" y2="592.70" stroke="#cfcfd1" stroke-width="0.8"/>
<line x1="203.22" y1="609.10" x2="203.22" y2="581.22" stroke="#4d4d4f" stroke-width="0.5"/>
<path d="M203.22,609.10 L202.92,609.10 L201.02,608.28 L202.82,606.64 L203.02,582.04 L203.22,582.04 Z" fill="#2e78b7"/>
<path d="M203.22,609.10 L203.52,609.10 L206.02,608.28 L204.42,606.64 L203.62,604.18 L203.32,582.04 L203.22,582.04 Z" fill="#d43a4d"/>
<line x1="136.80" y1="649.20" x2="136.80" y2="630.34" stroke="#4d4d4f" stroke-width="0.5"/>
<path d="M136.80,649.20 L136.50,649.20 L133.30,648.38 L134.30,646.74 L134.00,642.64 L134.20,638.54 L135.60,634.44 L136.60,631.16 L136.80,631.16 Z" fill="#2e78b7"/>
<path d="M136.80,649.20 L137.10,649.20 L140.30,648.38 L139.30,646.74 L139.60,642.64 L139.20,638.54 L137.80,634.44 L137.00,631.16 L136.80,631.16 Z" fill="#d43a4d"/>
<line x1="147.87" y1="649.20" x2="147.87" y2="631.16" stroke="#4d4d4f" stroke-width="0.5"/>
<path d="M147.87,649.20 L147.57,649.20 L144.87,648.38 L147.27,646.74 L147.37,643.46 L146.37,642.64 L147.47,641.82 L147.47,639.36 L146.67,638.54 L147.57,637.72 L147.67,631.98 L147.87,631.98 Z" fill="#2e78b7"/>
<path d="M147.87,649.20 L148.17,649.20 L150.87,648.38 L148.47,646.74 L148.37,643.46 L149.27,642.64 L148.27,641.82 L148.27,639.36 L148.87,638.54 L148.17,637.72 L148.07,631.98 L147.87,631.98 Z" fill="#d43a4d"/>
<line x1="158.94" y1="649.20" x2="158.94" y2="631.16" stroke="#4d4d4f" stroke-width="0.5"/>
<path d="M158.94,649.20 L158.64,649.20 L155.94,648.38 L158.34,646.74 L158.44,643.46 L157.44,642.64 L158.54,641.82 L158.54,639.36 L157.74,638.54 L158.64,637.72 L158.74,631.98 L158.94,631.98 Z" fill="#2e78b7"/>
<path d="M158.94,649.20 L159.24,649.20 L161.94,648.38 L159.54,646.74 L159.44,643.46 L160.34,642.64 L159.34,641.82 L159.34,639.36 L159.94,638.54 L159.24,637.72 L159.14,631.98 L158.94,631.98 Z" fill="#d43a4d"/>
<line x1="170.01" y1="649.20" x2="170.01" y2="631.98" stroke="#4d4d4f" stroke-width="0.5"/>
<path d="M170.01,649.20 L169.71,649.20 L167.01,648.38 L169.41,646.74 L169.51,643.46 L168.51,642.64 L169.61,641.82 L169.61,639.36 L168.81,638.54 L169.71,637.72 L169.81,632.80 L170.01,632.80 Z" fill="#2e78b7"/>
<path d="M170.01,649.20 L170.31,649.20 L173.01,648.38 L170.61,646.74 L170.51,643.46 L171.41,642.64 L170.41,641.82 L170.41,639.36 L171.01,638.54 L170.31,637.72 L170.21,632.80 L170.01,632.80 Z" fill="#d43a4d"/>
<line x1="181.08" y1="649.20" x2="181.08" y2="631.16" stroke="#cfcfd1" stroke-width="0.8"/>
<line x1="192.15" y1="649.20" x2="192.15" y2="627.88" stroke="#cfcfd1" stroke-width="0.8"/>
<line x1="203.22" y1="649.20" x2="203.22" y2="621.32" stroke="#4d4d4f" stroke-width="0.5"/>
<path d="M203.22,649.20 L202.92,649.20 L201.02,648.38 L202.82,646.74 L203.02,622.14 L203.22,622.14 Z" fill="#2e78b7"/>
<path d="M203.22,649.20 L203.52,649.20 L205.82,648.38 L204.42,645.10 L204.12,636.90 L203.32,622.14 L203.22,622.14 Z" fill="#d43a4d"/>
<line x1="136.80" y1="687.90" x2="136.80" y2="673.93" stroke="#cfcfd1" stroke-width="0.8"/>
<line x1="147.87" y1="687.90" x2="147.87" y2="673.93" stroke="#cfcfd1" stroke-width="0.8"/>
<line x1="158.94" y1="687.90" x2="158.94" y2="673.93" stroke="#cfcfd1" stroke-width="0.8"/>
<line x1="170.01" y1="687.90" x2="170.01" y2="667.95" stroke="#cfcfd1" stroke-width="0.8"/>
<line x1="181.08" y1="687.90" x2="181.08" y2="666.62" stroke="#cfcfd1" stroke-width="0.8"/>
<line x1="192.15" y1="687.90" x2="192.15" y2="661.30" stroke="#cfcfd1" stroke-width="0.8"/>
<line x1="203.22" y1="687.90" x2="203.22" y2="661.30" stroke="#4d4d4f" stroke-width="0.5"/>
<path d="M203.22,687.90 L202.92,687.90 L201.72,687.24 L202.92,685.24 L203.02,662.63 L203.22,662.63 Z" fill="#2e78b7"/>
<path d="M203.22,687.90 L203.52,687.90 L205.72,687.24 L203.72,685.24 L203.72,681.25 L204.62,679.92 L203.72,678.59 L203.32,662.63 L203.22,662.63 Z" fill="#d43a4d"/>
<text x="41.5" y="698.4" font-size="6.0" text-anchor="middle" fill="#333">1</text>
<text x="136.8" y="698.4" font-size="6.0" text-anchor="middle" fill="#333">1</text>
<text x="52.45" y="698.4" font-size="6.0" text-anchor="middle" fill="#333">2</text>
<text x="147.87" y="698.4" font-size="6.0" text-anchor="middle" fill="#333">2</text>
<text x="63.4" y="698.4" font-size="6.0" text-anchor="middle" fill="#333">3</text>
<text x="158.94" y="698.4" font-size="6.0" text-anchor="middle" fill="#333">3</text>
<text x="74.35" y="698.4" font-size="6.0" text-anchor="middle" fill="#333">4</text>
<text x="170.01000000000002" y="698.4" font-size="6.0" text-anchor="middle" fill="#333">4</text>
<text x="85.3" y="698.4" font-size="6.0" text-anchor="middle" fill="#333">5</text>
<text x="181.08" y="698.4" font-size="6.0" text-anchor="middle" fill="#333">5</text>
<text x="96.25" y="698.4" font-size="6.0" text-anchor="middle" fill="#333">6</text>
<text x="192.15" y="698.4" font-size="6.0" text-anchor="middle" fill="#333">6</text>
<text x="107.19999999999999" y="698.4" font-size="6.0" text-anchor="middle" fill="#333">7</text>
<text x="203.22000000000003" y="698.4" font-size="6.0" text-anchor="middle" fill="#333">7</text>
<text x="165.7" y="706.4" font-size="6.4" fill="#333" textLength="40.5" lengthAdjust="spacingAndGlyphs">Cluster Number</text>
<rect x="35" y="703" width="4.8" height="4.8" fill="#2e78b7"/>
<text x="42.5" y="707.6" font-size="6.2" textLength="33.8" lengthAdjust="spacingAndGlyphs">Bone Marrow</text>
<rect x="82.6" y="703" width="4.8" height="4.8" fill="#d43a4d"/>
<text x="89.5" y="707.6" font-size="6.2" textLength="30.5" lengthAdjust="spacingAndGlyphs">Focal Lesion</text>
<text x="22.1" y="635.8" font-size="7.7" textLength="82" lengthAdjust="spacingAndGlyphs" transform="rotate(-90 22.1 635.8)">Average Expression (L2FC)</text>
<text x="227.9" y="488.8" font-size="11.8" font-weight="bold" fill="#111">F</text>
<text x="263.2" y="495.4" font-size="8.9" textLength="200.4" lengthAdjust="spacingAndGlyphs">Mature Neutrophil - Focal Lesion | Reactome 2022</text>
<rect x="245.5" y="501.20" width="221.54" height="14.4" fill="#de8a9b" stroke="#c97888" stroke-width="0.5"/>
<text x="248.3" y="510.8" font-size="6.52" fill="#3a1822">Chemokine Receptors Bind Chemokines R-HSA-380108  *5.8e-05</text>
<rect x="245.5" y="520.28" width="184.97" height="14.4" fill="#de8a9b" stroke="#c97888" stroke-width="0.5"/>
<text x="248.3" y="529.88" font-size="6.52" fill="#3a1822">Cytokine Signaling In Immune System R-HSA-1280215  *2.88e-04</text>
<rect x="245.5" y="539.36" width="164.85" height="14.4" fill="#de8a9b" stroke="#c97888" stroke-width="0.5"/>
<text x="248.3" y="548.96" font-size="6.52" fill="#3a1822">Immune System R-HSA-168256  *6.99e-04</text>
<rect x="245.5" y="558.44" width="162.76" height="14.4" fill="#de8a9b" stroke="#c97888" stroke-width="0.5"/>
<text x="248.3" y="568.04" font-size="6.52" fill="#3a1822">G Alpha (I) Signaling Events R-HSA-418594  *7.68e-04</text>
<rect x="245.5" y="577.52" width="158.84" height="14.4" fill="#de8a9b" stroke="#c97888" stroke-width="0.5"/>
<text x="248.3" y="587.12" font-size="6.52" fill="#3a1822">Signal Transduction R-HSA-162582  *9.14e-04</text>
<rect x="245.5" y="596.60" width="144.99" height="14.4" fill="#de8a9b" stroke="#c97888" stroke-width="0.5"/>
<text x="248.3" y="606.2" font-size="6.52" fill="#3a1822">Interleukin-10 Signaling R-HSA-6783783  *1.68e-03</text>
<rect x="245.5" y="615.68" width="137.94" height="14.4" fill="#de8a9b" stroke="#c97888" stroke-width="0.5"/>
<text x="248.3" y="625.28" font-size="6.52" fill="#3a1822">Peptide Ligand-Binding Receptors R-HSA-375276  *2.28e-03</text>
<rect x="245.5" y="634.76" width="131.67" height="14.4" fill="#de8a9b" stroke="#c97888" stroke-width="0.5"/>
<text x="248.3" y="644.36" font-size="6.52" fill="#3a1822">Signaling By Interleukins R-HSA-449147  3.02e-03</text>
<rect x="245.5" y="653.84" width="124.04" height="14.4" fill="#de8a9b" stroke="#c97888" stroke-width="0.5"/>
<text x="248.3" y="663.4399999999999" font-size="6.52" fill="#3a1822">Interferon Alpha/Beta Signaling R-HSA-909733  4.23e-03</text>
<rect x="245.5" y="672.92" width="118.08" height="14.4" fill="#de8a9b" stroke="#c97888" stroke-width="0.5"/>
<text x="248.3" y="682.52" font-size="6.52" fill="#3a1822">PIP3 Activates AKT Signaling R-HSA-1257604  5.49e-03</text>
<line x1="246" y1="498.6" x2="246" y2="689.6" stroke="#3d3035" stroke-width="1.6"/>
<line x1="245.5" y1="689.2" x2="478" y2="689.2" stroke="#444" stroke-width="0.8"/>
<line x1="245.50" y1="689.2" x2="245.50" y2="691.5" stroke="#444" stroke-width="0.6"/>
<text x="245.5" y="700.6" font-size="6.4" text-anchor="middle" fill="#333">0</text>
<line x1="297.75" y1="689.2" x2="297.75" y2="691.5" stroke="#444" stroke-width="0.6"/>
<text x="297.75" y="700.6" font-size="6.4" text-anchor="middle" fill="#333">1</text>
<line x1="350.00" y1="689.2" x2="350.00" y2="691.5" stroke="#444" stroke-width="0.6"/>
<text x="350.0" y="700.6" font-size="6.4" text-anchor="middle" fill="#333">2</text>
<line x1="402.25" y1="689.2" x2="402.25" y2="691.5" stroke="#444" stroke-width="0.6"/>
<text x="402.25" y="700.6" font-size="6.4" text-anchor="middle" fill="#333">3</text>
<line x1="454.50" y1="689.2" x2="454.50" y2="691.5" stroke="#444" stroke-width="0.6"/>
<text x="454.5" y="700.6" font-size="6.4" text-anchor="middle" fill="#333">4</text>
<text x="339.6" y="710.5" font-size="6.8" fill="#333">-log<tspan font-size="4.2" dy="1.6">10</tspan><tspan dy="-1.6">(</tspan><tspan font-style="italic">P</tspan>-value)</text>
<rect x="0.5" y="0.5" width="519" height="722" fill="none" stroke="#444" stroke-width="1"/>
</svg></body></html>
